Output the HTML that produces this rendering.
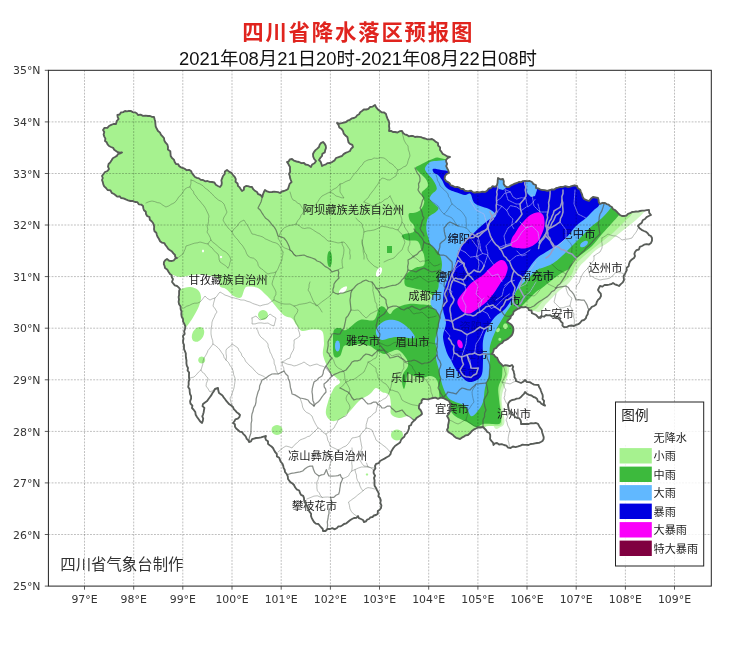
<!DOCTYPE html>
<html lang="zh"><head><meta charset="utf-8"><title>四川省降水落区预报图</title>
<style>html,body{margin:0;padding:0;background:#fff}body{width:734px;height:645px;overflow:hidden;font-family:"Liberation Sans","Noto Sans CJK SC",sans-serif}svg{display:block}text{font-family:"Liberation Sans","Noto Sans CJK SC",sans-serif}text.tk{font-family:"DejaVu Sans","Liberation Sans",sans-serif}</style>
</head><body>
<svg width="734" height="645" viewBox="0 0 734 645">
<rect width="734" height="645" fill="#fff"/>
<defs><clipPath id="prov"><path d="M102.0,176.0 L103.5,174.0 L105.0,172.0 L107.5,171.0 L109.0,169.0 L108.0,166.6 L108.6,164.0 L110.3,162.3 L111.6,160.3 L112.8,158.2 L115.0,157.0 L116.8,155.9 L118.0,154.0 L120.2,153.4 L122.0,152.4 L119.8,152.7 L117.8,152.2 L116.0,151.0 L114.2,149.8 L113.1,147.8 L111.0,147.0 L109.0,146.0 L107.6,144.4 L106.7,142.3 L105.0,141.0 L105.4,138.6 L104.3,136.6 L103.6,134.4 L104.3,132.0 L103.0,130.0 L104.5,127.9 L107.4,127.9 L109.0,126.0 L111.2,124.9 L113.5,124.0 L116.0,124.0 L116.7,121.2 L118.6,119.0 L117.7,117.1 L117.4,115.0 L119.6,114.5 L120.9,112.5 L123.2,112.1 L125.0,111.0 L127.0,111.3 L129.0,110.8 L131.0,111.0 L132.7,112.1 L134.9,112.3 L136.7,113.3 L138.0,115.0 L140.6,114.7 L143.0,115.8 L145.5,115.6 L148.0,116.0 L150.1,116.0 L152.0,116.8 L154.0,117.0 L154.6,119.3 L155.3,121.6 L155.4,124.0 L155.7,126.5 L156.8,128.8 L158.0,131.0 L159.9,132.4 L160.9,134.6 L162.5,136.3 L164.0,138.0 L164.3,140.5 L165.6,142.7 L167.4,144.6 L168.0,147.0 L167.9,149.5 L170.3,151.2 L170.5,153.5 L170.7,156.0 L172.0,158.0 L173.9,159.6 L174.7,162.0 L176.0,164.0 L178.2,164.2 L179.3,166.3 L181.0,167.4 L183.0,168.0 L185.0,168.9 L186.7,170.2 L189.1,169.9 L191.0,171.0 L192.0,173.2 L193.5,175.1 L195.0,177.0 L196.9,177.9 L199.0,178.4 L200.8,179.9 L203.0,180.0 L205.1,181.3 L207.5,181.0 L209.7,181.8 L212.0,182.0 L214.4,182.5 L215.8,184.8 L217.9,186.0 L220.0,187.0 L221.5,185.0 L221.8,182.8 L221.4,180.3 L222.2,178.1 L223.0,176.0 L224.6,174.2 L224.9,171.5 L227.0,170.0 L229.0,171.6 L231.4,172.8 L233.0,175.0 L234.7,176.9 L235.8,179.1 L235.5,181.8 L237.6,183.5 L238.0,186.0 L239.7,187.4 L240.8,189.2 L242.0,191.0 L243.9,189.8 L244.0,187.2 L246.0,186.0 L248.0,186.2 L250.0,186.8 L252.0,187.0 L253.2,189.2 L254.9,190.8 L257.0,192.0 L258.2,194.2 L260.6,195.0 L262.0,197.0 L262.9,194.6 L263.8,192.2 L265.0,190.0 L267.1,191.4 L269.4,192.2 L272.0,192.0 L274.1,191.6 L276.1,191.9 L278.1,192.2 L280.0,193.0 L281.8,191.5 L284.0,191.0 L286.1,190.2 L288.0,189.0 L288.8,186.5 L289.6,183.9 L291.6,182.0 L290.8,180.0 L290.1,178.1 L289.8,176.0 L289.0,174.0 L290.2,171.8 L290.0,169.4 L290.0,167.0 L289.0,165.3 L288.2,163.6 L287.0,162.0 L288.8,161.3 L289.9,159.3 L292.0,159.0 L294.0,160.7 L296.5,161.5 L299.0,162.0 L301.4,163.2 L304.0,163.0 L305.5,164.5 L307.6,164.8 L309.3,165.8 L311.0,167.0 L312.1,164.5 L314.5,163.2 L316.0,161.0 L314.2,159.0 L313.2,156.7 L313.0,154.0 L314.1,151.9 L315.5,150.1 L317.3,148.6 L319.0,147.0 L319.7,144.8 L320.9,143.1 L323.0,142.0 L324.6,143.7 L325.7,145.7 L326.0,148.0 L325.2,150.1 L324.8,152.4 L322.4,153.7 L322.0,156.0 L320.3,157.9 L319.0,160.0 L320.6,161.7 L321.4,163.8 L322.0,166.0 L323.9,165.0 L325.9,164.3 L327.7,163.1 L330.0,163.0 L332.4,161.8 L334.6,160.4 L336.0,158.0 L338.0,157.3 L340.0,156.6 L342.0,156.0 L343.6,154.1 L345.6,152.9 L347.8,152.0 L350.0,151.0 L351.1,148.7 L353.0,147.0 L352.3,144.9 L350.0,143.9 L348.5,142.3 L348.0,140.0 L347.5,137.3 L345.5,135.5 L343.7,133.6 L343.0,131.0 L341.6,129.0 L339.3,127.5 L338.5,125.0 L337.0,123.0 L339.4,123.7 L341.6,123.2 L343.8,122.6 L346.0,122.0 L347.8,120.6 L349.9,119.8 L351.7,118.4 L354.0,118.0 L355.9,117.0 L357.2,115.2 L359.1,114.2 L360.2,112.2 L362.0,111.0 L363.8,109.5 L366.3,109.5 L368.4,108.8 L370.0,107.0 L372.7,106.6 L375.0,105.0 L376.2,107.4 L377.9,109.4 L380.0,111.0 L381.8,112.4 L384.2,112.5 L386.0,114.0 L386.6,116.4 L387.5,118.7 L388.7,121.0 L389.3,123.4 L389.0,126.0 L389.4,128.5 L389.0,131.0 L391.1,130.9 L392.9,132.0 L395.0,132.0 L397.5,132.5 L399.7,131.2 L402.0,131.0 L403.1,133.0 L404.8,134.4 L407.0,135.0 L408.8,136.3 L411.1,135.8 L413.1,136.0 L415.0,137.0 L417.1,136.7 L419.1,136.9 L421.1,137.2 L423.0,138.0 L425.2,138.5 L427.4,139.3 L429.7,139.4 L432.0,139.0 L434.0,140.3 L435.8,141.9 L438.0,143.0 L438.1,145.5 L440.1,147.4 L440.0,150.0 L441.5,151.9 L442.8,153.9 L445.0,155.0 L447.3,156.5 L450.0,157.0 L447.7,158.1 L446.0,160.0 L446.3,162.0 L447.1,163.9 L446.2,166.1 L447.0,168.0 L448.3,170.4 L449.0,173.0 L446.7,174.0 L445.0,176.0 L444.6,178.7 L446.0,181.0 L447.9,182.1 L449.6,183.3 L450.8,185.4 L453.0,186.0 L454.9,187.1 L457.2,186.9 L459.2,187.6 L461.0,189.0 L463.2,188.9 L464.8,190.7 L466.9,191.1 L469.0,191.0 L471.1,190.6 L472.9,192.1 L474.9,192.7 L477.0,192.0 L479.7,192.3 L482.3,191.7 L485.0,192.0 L487.1,190.7 L488.6,188.7 L491.0,188.0 L492.6,186.2 L495.4,186.8 L497.0,185.0 L497.6,182.7 L497.7,180.3 L498.0,178.0 L500.3,179.3 L503.0,179.0 L503.8,181.3 L503.7,183.9 L505.0,186.0 L506.8,187.1 L509.0,187.0 L510.8,185.5 L512.8,184.6 L514.8,183.6 L517.0,183.0 L518.9,182.0 L521.0,182.2 L522.9,181.1 L525.0,181.0 L527.4,181.2 L529.8,181.0 L532.0,182.0 L533.5,184.1 L536.0,185.0 L536.0,188.0 L538.1,188.4 L540.0,189.3 L542.0,190.0 L544.7,190.2 L547.3,190.8 L550.0,190.0 L552.0,189.3 L554.2,189.6 L556.0,188.2 L558.0,187.7 L560.0,187.0 L562.7,187.0 L565.3,186.1 L568.0,187.0 L570.2,186.6 L572.4,185.9 L574.6,185.3 L577.0,186.0 L577.9,188.3 L580.2,189.7 L581.0,192.0 L582.0,194.3 L582.6,196.8 L584.0,199.0 L586.5,200.1 L589.0,201.0 L590.8,198.8 L593.0,197.0 L595.5,197.5 L598.0,198.0 L598.6,200.0 L598.8,202.2 L600.0,204.0 L602.4,202.8 L605.0,203.0 L606.6,204.1 L608.6,204.6 L610.0,206.0 L611.9,207.0 L613.0,209.1 L615.0,210.0 L616.7,211.7 L618.3,213.4 L620.0,215.0 L621.9,216.0 L624.0,216.0 L626.4,215.7 L628.0,213.9 L630.1,213.2 L632.0,212.0 L634.0,211.8 L636.0,211.5 L638.0,211.6 L640.0,211.0 L642.2,210.7 L644.5,210.6 L646.7,210.2 L649.0,210.0 L649.2,212.8 L651.0,215.0 L648.8,216.0 L646.6,217.1 L645.0,219.0 L642.7,220.2 L641.8,222.8 L639.7,224.2 L638.0,226.0 L639.5,228.3 L641.6,229.8 L644.0,231.0 L646.1,231.9 L647.7,233.3 L648.9,235.1 L650.9,236.0 L652.0,238.0 L652.0,240.6 L651.0,243.0 L649.0,244.5 L646.4,244.2 L644.1,244.7 L642.0,246.0 L639.8,246.9 L638.9,249.5 L636.5,250.2 L635.0,252.0 L634.4,253.9 L635.0,256.1 L634.0,258.0 L631.8,259.5 L630.0,261.4 L629.0,264.0 L628.7,266.2 L626.6,267.7 L626.8,270.1 L625.8,272.0 L625.0,274.0 L623.7,275.8 L623.7,277.9 L624.0,280.0 L622.8,282.4 L620.8,284.1 L619.0,286.0 L617.0,285.0 L614.9,284.3 L613.0,283.0 L611.2,284.2 L609.1,284.7 L607.0,285.0 L604.6,284.9 L602.5,286.6 L600.0,286.0 L598.9,288.0 L598.0,290.0 L599.1,291.9 L600.8,293.6 L601.0,296.0 L599.9,298.2 L598.0,299.9 L596.8,302.0 L596.1,304.5 L594.0,306.0 L591.8,306.8 L590.6,308.6 L588.9,309.9 L588.0,312.0 L587.7,314.3 L586.4,316.2 L585.8,318.4 L584.0,320.0 L581.7,320.7 L580.2,322.8 L578.4,324.2 L576.1,324.9 L574.0,326.0 L571.4,325.5 L568.9,325.9 L566.5,327.2 L564.0,327.0 L562.4,325.6 L562.7,323.1 L561.1,321.7 L560.0,320.0 L558.2,318.3 L555.6,318.0 L554.0,316.0 L551.9,316.6 L550.0,315.1 L548.0,315.4 L546.0,315.0 L544.0,316.7 L541.0,316.2 L539.0,318.0 L537.5,316.5 L536.0,314.9 L534.0,314.0 L531.9,313.1 L531.5,310.5 L528.9,310.1 L528.0,308.0 L525.8,307.0 L523.3,307.4 L521.0,307.0 L519.5,308.3 L517.6,308.9 L516.0,310.0 L513.7,311.5 L513.0,314.3 L511.0,316.0 L510.3,318.4 L508.3,320.0 L507.0,322.0 L509.3,323.3 L511.5,324.8 L513.0,327.0 L513.4,329.1 L513.3,331.1 L512.8,333.1 L512.0,335.0 L510.2,336.9 L508.2,338.6 L506.0,340.0 L503.7,340.9 L502.2,343.0 L500.0,344.0 L498.0,345.7 L496.4,347.8 L494.0,349.0 L493.3,351.6 L492.0,354.0 L494.1,354.9 L495.3,356.7 L497.2,357.8 L498.0,360.0 L499.3,362.3 L501.3,364.1 L503.0,366.0 L505.2,365.2 L507.5,365.5 L509.8,366.1 L512.0,365.0 L513.2,366.8 L512.4,369.1 L513.6,371.0 L514.0,373.0 L514.5,375.0 L514.4,377.2 L515.7,379.0 L516.0,381.0 L518.5,382.0 L521.0,383.0 L523.2,381.8 L525.0,380.0 L526.9,382.0 L529.8,382.1 L532.0,383.5 L534.0,384.6 L536.2,384.9 L538.5,385.0 L539.1,387.1 L540.3,388.9 L541.0,391.0 L541.7,392.9 L542.6,394.8 L542.8,396.9 L542.5,399.0 L544.1,400.9 L543.7,403.6 L545.0,405.6 L543.1,404.8 L541.3,403.7 L540.0,402.0 L537.9,401.4 L537.1,399.0 L535.6,397.7 L533.5,397.0 L531.5,395.5 L529.0,394.9 L526.9,393.7 L525.0,392.0 L524.0,393.9 L522.4,395.4 L521.0,397.0 L519.0,398.4 L516.5,398.6 L514.4,399.7 L512.0,400.0 L510.0,401.1 L508.6,402.8 L508.0,405.0 L508.4,407.8 L509.0,410.5 L510.9,411.8 L511.3,414.4 L513.8,415.1 L515.0,417.0 L517.0,417.8 L519.1,418.2 L520.5,420.0 L521.0,422.0 L521.0,424.0 L523.5,424.0 L526.1,424.0 L528.6,424.0 L531.0,423.1 L533.5,423.3 L536.0,423.0 L538.0,423.9 L539.0,425.8 L540.0,427.6 L541.7,429.8 L542.2,432.5 L543.0,435.0 L543.7,437.1 L543.6,439.1 L542.5,441.0 L540.8,442.0 L539.0,442.8 L537.0,443.0 L534.9,443.3 L532.8,443.9 L530.6,444.0 L528.6,445.0 L526.6,444.9 L524.5,444.9 L522.5,444.7 L520.5,445.6 L518.1,446.4 L515.6,447.1 L512.9,446.5 L510.6,448.0 L508.1,447.6 L506.4,445.6 L504.0,445.0 L501.7,444.1 L499.1,444.5 L497.0,443.0 L494.9,443.4 L493.5,445.0 L493.0,442.6 L491.4,440.9 L490.0,439.0 L490.2,437.0 L490.2,434.9 L489.4,433.0 L487.2,432.0 L486.0,430.0 L484.5,428.5 L483.0,427.0 L480.7,427.5 L478.2,427.4 L476.0,428.5 L473.6,429.7 L471.6,431.3 L469.9,433.3 L468.0,435.0 L465.7,435.3 L463.8,436.7 L461.8,437.7 L460.0,439.0 L458.0,438.4 L456.1,437.8 L454.4,436.6 L453.0,435.0 L450.8,433.5 L448.5,432.2 L447.0,430.0 L448.1,427.6 L448.1,425.0 L448.7,422.5 L449.0,420.0 L448.2,417.9 L447.0,416.0 L448.6,414.2 L449.6,412.0 L451.0,410.0 L449.6,408.0 L450.6,405.4 L450.0,403.1 L449.0,401.0 L447.0,400.0 L445.0,398.9 L443.0,398.0 L440.5,397.7 L438.0,398.8 L435.5,397.6 L433.0,398.0 L430.5,398.7 L428.1,399.3 L425.5,399.2 L423.0,399.0 L421.6,400.5 L421.5,402.8 L419.6,404.0 L419.0,406.0 L418.9,408.3 L420.5,410.0 L421.5,411.9 L422.0,414.0 L420.3,415.5 L418.3,416.7 L416.4,418.1 L415.0,420.0 L413.3,421.3 L411.8,422.8 L411.1,425.1 L409.0,426.0 L409.0,428.5 L408.1,430.8 L407.0,433.0 L405.1,434.4 L404.3,436.7 L402.4,438.2 L401.0,440.0 L400.2,442.2 L398.6,443.6 L396.8,444.8 L395.0,446.0 L393.5,447.8 L392.3,449.8 L391.1,451.8 L390.5,454.2 L389.0,456.0 L386.7,457.2 L384.5,458.6 L382.3,459.8 L380.0,461.0 L378.8,463.2 L376.1,463.8 L375.0,466.0 L375.4,468.4 L373.7,470.7 L373.6,473.1 L375.1,475.7 L374.0,478.0 L374.6,480.5 L374.4,483.1 L374.6,485.7 L376.0,488.0 L376.9,490.0 L378.0,491.8 L378.9,493.8 L378.4,496.3 L380.0,498.0 L380.8,500.4 L380.3,503.0 L381.4,505.4 L381.0,508.0 L379.7,509.7 L377.8,511.0 L377.8,513.7 L376.0,515.0 L373.9,515.5 L372.5,517.0 L370.4,517.4 L369.0,519.0 L367.1,519.7 L365.9,521.4 L364.0,522.0 L363.0,520.0 L361.0,519.0 L358.9,518.1 L358.0,516.0 L356.4,517.8 L354.0,518.0 L352.0,519.0 L350.0,520.3 L348.2,521.8 L346.4,523.3 L344.0,524.0 L342.4,525.3 L340.7,526.3 L338.4,526.4 L337.0,528.0 L334.8,529.3 L332.3,528.2 L330.0,529.0 L327.5,529.0 L325.5,531.0 L323.0,531.0 L322.7,528.9 L321.3,527.5 L320.0,526.0 L318.4,524.0 L315.8,523.7 L314.0,522.0 L312.8,520.1 L311.8,518.1 L311.0,516.0 L311.1,513.7 L309.7,511.9 L308.5,510.1 L308.0,508.0 L307.1,506.1 L306.0,504.2 L304.8,502.3 L304.1,500.3 L304.0,498.0 L303.2,495.9 L301.0,494.9 L300.0,493.0 L299.2,490.5 L296.6,489.3 L295.1,487.3 L294.0,485.0 L292.5,483.5 L290.6,482.4 L289.3,480.7 L288.0,479.0 L287.8,476.3 L286.7,474.0 L285.0,472.0 L284.7,469.8 L283.6,467.9 L283.2,465.7 L282.4,463.7 L280.9,462.0 L280.0,460.0 L279.2,457.8 L276.9,456.4 L276.8,453.8 L275.1,452.0 L274.0,450.0 L273.0,448.0 L271.5,446.5 L269.7,445.3 L268.0,443.9 L268.0,441.2 L266.0,440.0 L265.3,438.0 L266.0,436.0 L263.5,436.6 L261.1,437.3 L258.6,437.9 L256.0,438.0 L254.0,438.6 L252.1,439.2 L251.0,441.4 L249.0,442.0 L248.3,440.2 L246.7,438.9 L246.0,437.0 L244.8,435.3 L243.2,433.8 L242.0,432.0 L239.7,431.6 L238.0,430.0 L236.2,428.6 L235.0,426.8 L234.9,424.3 L233.0,423.0 L234.4,421.4 L235.4,419.4 L237.8,418.7 L239.3,417.2 L240.0,415.0 L238.5,413.5 L236.7,412.3 L235.4,410.6 L233.8,409.1 L233.0,407.0 L231.2,405.6 L229.3,404.3 L227.8,402.6 L226.3,400.9 L225.0,399.0 L223.6,397.4 L222.5,395.5 L220.8,394.2 L219.0,393.0 L218.3,390.5 L218.0,388.0 L215.0,389.0 L213.9,391.1 L212.5,393.0 L211.4,395.1 L210.0,397.0 L208.5,399.0 L207.1,401.1 L205.0,402.5 L203.0,404.0 L202.5,406.1 L204.4,407.9 L204.0,410.0 L203.7,412.2 L203.1,414.3 L202.3,416.4 L203.2,418.7 L202.8,420.9 L202.0,423.0 L200.0,421.3 L198.5,419.1 L197.0,417.0 L195.7,414.8 L195.3,412.1 L193.8,409.9 L192.0,408.0 L192.4,405.6 L190.4,403.5 L190.1,401.1 L191.1,398.6 L191.1,396.2 L190.0,394.0 L189.7,391.6 L189.6,389.2 L188.2,386.9 L188.7,384.4 L188.6,382.0 L189.3,379.6 L189.0,377.3 L189.0,375.0 L189.1,372.6 L187.6,370.4 L188.0,368.0 L186.8,365.6 L186.4,363.1 L186.5,360.5 L186.0,358.0 L185.8,355.7 L185.8,353.3 L184.9,351.2 L184.0,349.0 L184.0,347.0 L184.0,344.9 L183.2,343.0 L183.0,341.0 L183.5,338.6 L182.9,336.1 L184.7,333.9 L184.1,331.3 L185.0,329.0 L185.3,326.3 L184.3,323.9 L183.1,321.6 L183.0,319.0 L181.7,316.7 L181.3,314.1 L181.5,311.4 L180.6,309.0 L180.6,306.5 L179.1,304.3 L178.6,301.9 L179.0,299.4 L178.6,297.0 L179.1,295.0 L179.1,293.0 L179.1,290.9 L180.0,289.0 L178.6,287.4 L177.0,286.0 L174.8,285.4 L173.4,283.6 L172.0,282.0 L173.0,279.0 L171.9,277.4 L171.7,275.2 L170.0,274.0 L168.5,271.8 L167.2,269.5 L165.0,268.0 L164.6,266.0 L163.8,264.1 L164.0,262.0 L165.2,260.2 L167.0,259.0 L169.2,260.8 L172.0,261.0 L173.9,260.3 L175.1,258.7 L177.0,258.0 L175.2,257.0 L175.0,255.0 L173.4,253.4 L172.0,251.6 L170.1,250.3 L168.3,248.9 L167.0,247.0 L165.6,245.2 L164.4,243.2 L161.8,242.6 L160.0,241.2 L159.0,239.0 L157.7,237.1 L156.9,235.1 L156.3,232.8 L154.5,231.3 L154.0,229.0 L154.2,226.9 L153.8,224.9 L153.0,223.0 L151.6,221.2 L149.8,219.7 L149.5,217.1 L147.1,216.0 L146.0,214.0 L145.8,211.8 L144.0,210.2 L143.3,208.2 L143.0,206.0 L141.2,204.6 L138.8,204.3 L137.4,202.2 L135.0,202.0 L133.0,201.0 L130.5,201.0 L128.1,200.3 L125.8,199.4 L123.5,198.3 L121.0,198.0 L119.7,196.3 L117.2,196.6 L115.6,195.2 L114.0,194.0 L111.7,192.9 L110.5,190.3 L107.6,190.0 L106.0,188.0 L104.2,186.4 L103.3,184.4 L102.8,182.1 L102.0,180.0 L102.8,178.0Z"/></clipPath>
<filter id="soft" x="-5%" y="-5%" width="110%" height="110%"><feGaussianBlur stdDeviation="0.45"/></filter>
<filter id="soft2" x="-5%" y="-5%" width="110%" height="110%"><feGaussianBlur stdDeviation="0.3"/></filter>
</defs>
<text x="358.2" y="40.4" text-anchor="middle" font-size="21.4" font-weight="bold" fill="#e0241e" letter-spacing="1.8">四川省降水落区预报图</text>
<text x="358" y="64.9" text-anchor="middle" font-size="18.4" fill="#111">2021年08月21日20时-2021年08月22日08时</text>
<g filter="url(#soft)"><g clip-path="url(#prov)">
<path d="M538.0,312.0 C542.3,312.7 543.7,306.3 546.0,304.0 C548.3,301.7 549.7,300.3 552.0,298.0 C554.3,295.7 557.3,292.3 560.0,290.0 C562.7,287.7 565.7,286.3 568.0,284.0 C570.3,281.7 572.0,279.0 574.0,276.0 C576.0,273.0 578.0,268.7 580.0,266.0 C582.0,263.3 583.3,262.7 586.0,260.0 C588.7,257.3 592.7,252.7 596.0,250.0 C599.3,247.3 602.7,246.3 606.0,244.0 C609.3,241.7 612.7,238.7 616.0,236.0 C619.3,233.3 622.7,230.7 626.0,228.0 C629.3,225.3 633.0,222.7 636.0,220.0 C639.0,217.3 641.3,215.3 644.0,212.0 C646.7,208.7 656.0,203.7 652.0,200.0 C648.0,196.3 635.3,180.0 620.0,190.0 C604.7,200.0 576.7,241.7 560.0,260.0 C543.3,278.3 523.7,291.3 520.0,300.0 C516.3,308.7 533.7,311.3 538.0,312.0Z" fill="#cdf6bf"/>
<path d="M496.0,350.0 C498.2,343.0 500.9,355.3 503.0,358.0 C505.1,360.7 507.5,363.8 508.5,366.0 C509.5,368.2 509.5,368.2 509.0,371.0 C508.5,373.8 506.8,378.5 505.6,382.7 C504.4,386.9 502.3,392.1 501.8,396.3 C501.3,400.5 502.1,403.7 502.5,408.0 C502.9,412.3 504.8,418.9 504.5,422.0 C504.2,425.1 502.8,426.0 501.0,426.8 C499.2,427.6 495.8,431.3 494.0,426.8 C492.2,422.3 489.7,412.8 490.0,400.0 C490.3,387.2 493.8,357.0 496.0,350.0Z" fill="#cdf6bf"/>
<path d="M90.0,272.0 C101.7,300.7 146.7,271.7 160.0,272.0 C173.3,272.3 166.7,273.2 170.0,274.0 C173.3,274.8 176.8,276.8 180.0,277.0 C183.2,277.2 185.7,275.9 189.0,275.5 C192.3,275.1 196.2,274.4 200.0,274.5 C203.8,274.6 208.8,275.1 212.0,276.0 C215.2,276.9 217.7,278.2 219.0,280.0 C220.3,281.8 218.8,285.1 220.0,286.6 C221.2,288.1 223.7,287.4 226.0,289.0 C228.3,290.6 231.1,294.6 233.6,296.0 C236.1,297.4 239.2,298.8 241.0,297.6 C242.8,296.4 243.4,290.8 244.6,289.0 C245.8,287.2 245.8,286.8 248.0,286.6 C250.2,286.4 255.2,286.8 258.0,288.0 C260.8,289.2 263.0,292.2 265.0,294.0 C267.0,295.8 267.9,296.6 270.0,299.0 C272.1,301.4 275.2,305.9 277.7,308.7 C280.2,311.5 282.6,314.4 285.0,316.0 C287.4,317.6 290.0,316.8 292.0,318.5 C294.0,320.2 295.3,323.9 297.0,326.0 C298.7,328.1 299.5,330.4 302.0,331.0 C304.5,331.6 308.7,329.5 312.0,329.5 C315.3,329.5 320.0,328.8 322.0,331.0 C324.0,333.2 323.8,339.0 324.0,343.0 C324.2,347.0 322.2,350.5 323.0,355.0 C323.8,359.5 327.5,366.8 329.0,370.0 C330.5,373.2 330.2,372.0 332.0,374.0 C333.8,376.0 339.7,379.7 340.0,382.0 C340.3,384.3 336.0,384.7 334.0,388.0 C332.0,391.3 329.3,397.7 328.0,402.0 C326.7,406.3 325.3,410.8 326.0,414.0 C326.7,417.2 329.3,420.3 332.0,421.0 C334.7,421.7 338.8,419.8 342.0,418.0 C345.2,416.2 348.2,412.8 351.0,410.0 C353.8,407.2 355.8,403.7 359.0,401.0 C362.2,398.3 367.2,396.2 370.0,394.0 C372.8,391.8 374.0,388.3 376.0,388.0 C378.0,387.7 379.8,390.8 382.0,392.0 C384.2,393.2 387.5,392.8 389.0,395.0 C390.5,397.2 390.7,401.8 391.0,405.0 C391.3,408.2 389.7,411.8 391.0,414.0 C392.3,416.2 396.0,417.7 399.0,418.0 C402.0,418.3 406.5,415.5 409.0,416.0 C411.5,416.5 411.3,418.3 414.0,421.0 C416.7,423.7 420.7,426.8 425.0,432.0 C429.3,437.2 432.5,449.7 440.0,452.0 C447.5,454.3 463.3,449.2 470.0,446.0 C476.7,442.8 477.5,436.2 480.0,433.0 C482.5,429.8 483.0,428.2 485.0,427.0 C487.0,425.8 489.4,426.2 492.0,426.0 C494.6,425.8 498.8,426.5 500.5,425.5 C502.2,424.5 501.9,422.9 502.0,420.0 C502.1,417.1 501.3,412.0 501.0,408.0 C500.7,404.0 500.1,399.1 500.0,396.0 C499.9,392.9 499.8,392.0 500.5,389.5 C501.2,387.0 502.9,383.3 504.0,381.0 C505.1,378.7 506.6,378.1 507.0,375.8 C507.4,373.5 507.2,370.0 506.5,367.0 C505.8,364.0 503.8,360.5 503.0,358.0 C502.2,355.5 500.8,354.2 502.0,352.0 C503.2,349.8 507.3,347.8 510.0,345.0 C512.7,342.2 517.0,338.8 518.0,335.0 C519.0,331.2 515.7,325.7 516.0,322.0 C516.3,318.3 517.7,314.8 520.0,313.0 C522.3,311.2 527.3,311.7 530.0,311.0 C532.7,310.3 534.0,310.5 536.0,309.0 C538.0,307.5 539.7,304.5 542.0,302.0 C544.3,299.5 547.3,296.7 550.0,294.0 C552.7,291.3 555.3,288.3 558.0,286.0 C560.7,283.7 563.7,282.0 566.0,280.0 C568.3,278.0 570.3,276.7 572.0,274.0 C573.7,271.3 574.0,267.0 576.0,264.0 C578.0,261.0 581.0,258.7 584.0,256.0 C587.0,253.3 590.7,250.7 594.0,248.0 C597.3,245.3 600.7,242.7 604.0,240.0 C607.3,237.3 610.7,235.0 614.0,232.0 C617.3,229.0 621.0,225.0 624.0,222.0 C627.0,219.0 629.3,217.7 632.0,214.0 C634.7,210.3 628.7,219.0 640.0,200.0 C651.3,181.0 791.7,116.7 700.0,100.0 C608.3,83.3 191.7,71.3 90.0,100.0 C-11.7,128.7 78.3,243.3 90.0,272.0Z" fill="#a6f28f"/>
<path d="M181.0,289.0 C183.3,288.2 187.2,286.8 190.0,287.0 C192.8,287.2 196.2,288.3 198.0,290.0 C199.8,291.7 200.8,294.3 201.0,297.0 C201.2,299.7 200.0,303.2 199.0,306.0 C198.0,308.8 196.5,311.3 195.0,314.0 C193.5,316.7 191.7,319.8 190.0,322.0 C188.3,324.2 187.0,327.3 185.0,327.0 C183.0,326.7 179.5,323.7 178.0,320.0 C176.5,316.3 176.3,309.7 176.0,305.0 C175.7,300.3 175.2,294.7 176.0,292.0 C176.8,289.3 178.7,289.8 181.0,289.0Z" fill="#a6f28f"/>
<path d="M202.0,327.5 C202.4,327.7 202.8,328.0 203.1,328.4 C203.4,328.8 203.7,329.3 203.8,329.8 C204.0,330.3 204.1,330.9 204.2,331.4 C204.2,332.0 204.2,332.7 204.1,333.3 C204.0,334.0 203.9,334.6 203.6,335.3 C203.4,335.9 203.1,336.6 202.8,337.1 C202.4,337.7 202.0,338.3 201.6,338.8 C201.1,339.4 200.6,339.8 200.1,340.2 C199.6,340.6 199.1,341.0 198.5,341.2 C198.0,341.5 197.4,341.7 196.9,341.8 C196.4,341.9 195.9,341.9 195.4,341.8 C194.9,341.7 194.4,341.6 194.0,341.3 C193.6,341.1 193.2,340.8 192.9,340.4 C192.6,340.0 192.3,339.5 192.2,339.0 C192.0,338.5 191.9,337.9 191.8,337.4 C191.8,336.8 191.8,336.1 191.9,335.5 C192.0,334.8 192.1,334.2 192.4,333.5 C192.6,332.9 192.9,332.2 193.2,331.6 C193.6,331.1 194.0,330.5 194.4,330.0 C194.9,329.4 195.4,329.0 195.9,328.6 C196.4,328.2 196.9,327.8 197.5,327.6 C198.0,327.3 198.6,327.1 199.1,327.0 C199.6,326.9 200.1,326.9 200.6,327.0 C201.1,327.1 201.6,327.2 202.0,327.5Z" fill="#a6f28f"/>
<path d="M205.2,360.0 C205.2,360.6 205.0,361.2 204.7,361.8 C204.4,362.3 204.0,362.7 203.4,363.0 C202.9,363.3 202.3,363.5 201.7,363.5 C201.1,363.5 200.5,363.3 199.9,363.0 C199.4,362.7 199.0,362.3 198.7,361.8 C198.4,361.2 198.2,360.6 198.2,360.0 C198.2,359.4 198.4,358.8 198.7,358.2 C199.0,357.7 199.4,357.3 199.9,357.0 C200.5,356.7 201.1,356.5 201.7,356.5 C202.3,356.5 202.9,356.7 203.4,357.0 C204.0,357.3 204.4,357.7 204.7,358.2 C205.0,358.8 205.2,359.4 205.2,360.0Z" fill="#a6f28f"/>
<path d="M268.0,315.0 C268.0,315.8 267.7,316.8 267.3,317.5 C266.9,318.2 266.2,318.9 265.5,319.3 C264.8,319.7 263.8,320.0 263.0,320.0 C262.2,320.0 261.2,319.7 260.5,319.3 C259.8,318.9 259.1,318.2 258.7,317.5 C258.3,316.8 258.0,315.8 258.0,315.0 C258.0,314.2 258.3,313.2 258.7,312.5 C259.1,311.8 259.8,311.1 260.5,310.7 C261.2,310.3 262.2,310.0 263.0,310.0 C263.8,310.0 264.8,310.3 265.5,310.7 C266.2,311.1 266.9,311.8 267.3,312.5 C267.7,313.2 268.0,314.2 268.0,315.0Z" fill="#a6f28f"/>
<path d="M282.5,430.0 C282.5,430.8 282.2,431.8 281.8,432.5 C281.3,433.2 280.5,433.9 279.8,434.3 C279.0,434.7 277.9,435.0 277.0,435.0 C276.1,435.0 275.0,434.7 274.2,434.3 C273.5,433.9 272.7,433.2 272.2,432.5 C271.8,431.8 271.5,430.8 271.5,430.0 C271.5,429.2 271.8,428.2 272.2,427.5 C272.7,426.8 273.5,426.1 274.2,425.7 C275.0,425.3 276.1,425.0 277.0,425.0 C277.9,425.0 279.0,425.3 279.8,425.7 C280.5,426.1 281.3,426.8 281.8,427.5 C282.2,428.2 282.5,429.2 282.5,430.0Z" fill="#a6f28f"/>
<path d="M403.0,435.0 C403.0,435.9 402.7,437.0 402.2,437.8 C401.7,438.5 400.9,439.3 400.0,439.8 C399.1,440.2 398.0,440.5 397.0,440.5 C396.0,440.5 394.9,440.2 394.0,439.8 C393.1,439.3 392.3,438.5 391.8,437.8 C391.3,437.0 391.0,435.9 391.0,435.0 C391.0,434.1 391.3,433.0 391.8,432.2 C392.3,431.5 393.1,430.7 394.0,430.2 C394.9,429.8 396.0,429.5 397.0,429.5 C398.0,429.5 399.1,429.8 400.0,430.2 C400.9,430.7 401.7,431.5 402.2,432.2 C402.7,433.0 403.0,434.1 403.0,435.0Z" fill="#a6f28f"/>
<path d="M368.2,474.5 C368.2,474.8 368.0,475.1 367.8,475.3 C367.6,475.5 367.3,475.7 367.0,475.7 C366.7,475.7 366.4,475.5 366.2,475.3 C366.0,475.1 365.8,474.8 365.8,474.5 C365.8,474.2 366.0,473.9 366.2,473.7 C366.4,473.5 366.7,473.3 367.0,473.3 C367.3,473.3 367.6,473.5 367.8,473.7 C368.0,473.9 368.2,474.2 368.2,474.5Z" fill="#a6f28f"/>
<path d="M346.8,286.8 C347.1,287.1 347.1,287.5 347.0,288.1 C346.9,288.6 346.6,289.2 346.1,289.9 C345.7,290.5 345.1,291.1 344.4,291.7 C343.8,292.2 343.0,292.7 342.3,293.1 C341.6,293.4 340.9,293.6 340.4,293.6 C339.9,293.7 339.4,293.5 339.2,293.2 C338.9,292.9 338.9,292.5 339.0,291.9 C339.1,291.4 339.4,290.8 339.9,290.1 C340.3,289.5 340.9,288.9 341.6,288.3 C342.2,287.8 343.0,287.3 343.7,286.9 C344.4,286.6 345.1,286.4 345.6,286.4 C346.1,286.3 346.6,286.5 346.8,286.8Z" fill="#ffffff"/>
<path d="M381.3,273.1 C380.9,273.8 380.4,274.6 379.9,275.2 C379.4,275.7 378.8,276.2 378.3,276.5 C377.8,276.7 377.3,276.7 376.9,276.5 C376.5,276.4 376.2,275.9 376.0,275.4 C375.9,274.9 375.9,274.1 376.0,273.4 C376.1,272.6 376.4,271.7 376.7,270.9 C377.1,270.2 377.6,269.4 378.1,268.8 C378.6,268.3 379.2,267.8 379.7,267.5 C380.2,267.3 380.7,267.3 381.1,267.5 C381.5,267.6 381.8,268.1 382.0,268.6 C382.1,269.1 382.1,269.9 382.0,270.6 C381.9,271.4 381.6,272.3 381.3,273.1Z" fill="#ffffff"/>
<path d="M204.0,251.0 C204.0,251.3 203.9,251.8 203.7,252.0 C203.5,252.2 203.2,252.4 203.0,252.4 C202.8,252.4 202.5,252.2 202.3,252.0 C202.1,251.8 202.0,251.3 202.0,251.0 C202.0,250.7 202.1,250.2 202.3,250.0 C202.5,249.8 202.8,249.6 203.0,249.6 C203.2,249.6 203.5,249.8 203.7,250.0 C203.9,250.2 204.0,250.7 204.0,251.0Z" fill="#ffffff"/>
<path d="M222.2,257.0 C222.2,257.3 222.0,257.6 221.8,257.8 C221.6,258.0 221.3,258.2 221.0,258.2 C220.7,258.2 220.4,258.0 220.2,257.8 C220.0,257.6 219.8,257.3 219.8,257.0 C219.8,256.7 220.0,256.4 220.2,256.2 C220.4,256.0 220.7,255.8 221.0,255.8 C221.3,255.8 221.6,256.0 221.8,256.2 C222.0,256.4 222.2,256.7 222.2,257.0Z" fill="#ffffff"/>
<path d="M412.4,351.0 C412.4,351.3 412.2,351.8 412.0,352.0 C411.8,352.2 411.3,352.4 411.0,352.4 C410.7,352.4 410.2,352.2 410.0,352.0 C409.8,351.8 409.6,351.3 409.6,351.0 C409.6,350.7 409.8,350.2 410.0,350.0 C410.2,349.8 410.7,349.6 411.0,349.6 C411.3,349.6 411.8,349.8 412.0,350.0 C412.2,350.2 412.4,350.7 412.4,351.0Z" fill="#ffffff"/>
<path d="M437.0,157.5 C439.0,157.2 440.3,158.2 442.0,158.5 C443.7,158.8 445.2,159.4 447.0,159.5 C448.8,159.6 451.2,159.8 453.0,159.0 C454.8,158.2 455.2,156.5 458.0,155.0 C460.8,153.5 439.7,150.8 470.0,150.0 C500.3,149.2 614.2,140.8 640.0,150.0 C665.8,159.2 628.5,194.2 625.0,205.0 C621.5,215.8 621.2,212.0 619.0,215.0 C616.8,218.0 614.8,219.8 612.0,223.0 C609.2,226.2 605.3,230.2 602.0,234.0 C598.7,237.8 595.3,242.7 592.0,246.0 C588.7,249.3 585.0,251.7 582.0,254.0 C579.0,256.3 576.0,257.7 574.0,260.0 C572.0,262.3 572.3,265.7 570.0,268.0 C567.7,270.3 563.0,272.0 560.0,274.0 C557.0,276.0 555.0,277.7 552.0,280.0 C549.0,282.3 544.7,286.0 542.0,288.0 C539.3,290.0 538.3,290.0 536.0,292.0 C533.7,294.0 530.5,297.5 528.0,300.0 C525.5,302.5 522.7,305.0 521.0,307.0 C519.3,309.0 518.2,308.2 518.0,312.0 C517.8,315.8 520.5,325.0 520.0,330.0 C519.5,335.0 517.5,338.3 515.0,342.0 C512.5,345.7 507.0,349.0 505.0,352.0 C503.0,355.0 503.4,357.3 503.0,360.0 C502.6,362.7 502.7,365.0 502.5,368.0 C502.3,371.0 502.4,374.7 501.7,378.0 C501.0,381.3 498.8,384.1 498.4,387.6 C497.9,391.1 498.6,394.4 499.0,399.0 C499.4,403.6 500.8,410.9 501.0,415.0 C501.2,419.1 501.4,422.1 500.0,423.6 C498.6,425.1 495.5,423.9 492.7,424.0 C489.9,424.1 485.8,423.5 483.0,424.0 C480.2,424.5 478.7,427.3 476.0,427.0 C473.3,426.7 470.5,423.8 467.0,422.0 C463.5,420.2 458.0,418.3 455.0,416.0 C452.0,413.7 450.7,410.7 449.0,408.0 C447.3,405.3 446.5,401.7 445.0,400.0 C443.5,398.3 441.0,399.3 440.0,398.0 C439.0,396.7 439.5,395.0 439.0,392.0 C438.5,389.0 438.5,382.7 437.0,380.0 C435.5,377.3 432.5,376.3 430.0,376.0 C427.5,375.7 424.7,378.0 422.0,378.0 C419.3,378.0 416.3,376.7 414.0,376.0 C411.7,375.3 409.3,373.0 408.0,374.0 C406.7,375.0 406.7,379.5 406.0,382.0 C405.3,384.5 404.7,389.0 404.0,389.0 C403.3,389.0 402.2,384.5 402.0,382.0 C401.8,379.5 402.0,376.7 403.0,374.0 C404.0,371.3 407.5,368.7 408.0,366.0 C408.5,363.3 407.7,360.7 406.0,358.0 C404.3,355.3 400.7,351.0 398.0,350.0 C395.3,349.0 392.3,351.3 390.0,352.0 C387.7,352.7 386.3,354.3 384.0,354.0 C381.7,353.7 378.3,351.3 376.0,350.0 C373.7,348.7 372.7,347.0 370.0,346.0 C367.3,345.0 363.3,344.0 360.0,344.0 C356.7,344.0 352.7,345.7 350.0,346.0 C347.3,346.3 345.7,344.3 344.0,346.0 C342.3,347.7 341.7,354.3 340.0,356.0 C338.3,357.7 335.2,358.3 334.0,356.0 C332.8,353.7 333.0,346.3 333.0,342.0 C333.0,337.7 332.8,332.3 334.0,330.0 C335.2,327.7 338.0,328.0 340.0,328.0 C342.0,328.0 342.7,331.3 346.0,330.0 C349.3,328.7 355.3,321.7 360.0,320.0 C364.7,318.3 370.8,322.0 374.0,320.0 C377.2,318.0 377.3,310.2 379.0,308.0 C380.7,305.8 382.2,306.0 384.0,307.0 C385.8,308.0 388.2,313.7 390.0,314.0 C391.8,314.3 391.8,310.7 395.0,309.0 C398.2,307.3 402.8,304.7 409.0,304.0 C415.2,303.3 427.5,305.7 432.0,305.0 C436.5,304.3 435.8,301.5 436.0,300.0 C436.2,298.5 434.8,297.5 433.0,296.0 C431.2,294.5 428.3,292.3 425.0,291.0 C421.7,289.7 416.3,289.0 413.0,288.0 C409.7,287.0 406.2,287.2 405.0,285.0 C403.8,282.8 404.3,277.8 406.0,275.0 C407.7,272.2 412.0,269.7 415.0,268.0 C418.0,266.3 422.5,267.2 424.0,265.0 C425.5,262.8 424.5,257.7 424.0,255.0 C423.5,252.3 421.7,250.7 421.0,249.0 C420.3,247.3 420.7,246.4 420.0,245.0 C419.3,243.6 418.9,241.6 416.7,240.8 C414.5,240.0 409.4,240.8 407.0,240.2 C404.6,239.6 402.6,238.0 402.0,237.0 C401.4,236.0 401.8,235.1 403.7,234.3 C405.6,233.5 411.7,233.4 413.4,232.0 C415.1,230.6 414.6,227.6 414.0,225.6 C413.4,223.6 410.5,222.2 409.7,220.2 C408.9,218.2 408.0,214.9 409.0,213.6 C410.0,212.3 413.6,213.3 415.6,212.6 C417.6,211.9 419.6,211.1 421.0,209.3 C422.4,207.5 424.2,204.4 424.3,201.7 C424.4,199.0 421.1,195.5 421.6,193.0 C422.2,190.5 426.8,188.7 427.6,186.5 C428.4,184.3 427.6,182.1 426.5,180.0 C425.4,177.9 422.8,176.0 421.0,174.0 C419.2,172.0 415.7,169.5 415.5,168.0 C415.3,166.5 417.6,166.3 420.0,165.0 C422.4,163.7 427.2,161.2 430.0,160.0 C432.8,158.8 435.0,157.8 437.0,157.5Z" fill="#3dba3d"/>
<path d="M332.0,259.0 C332.0,260.3 331.9,261.8 331.7,263.0 C331.5,264.2 331.1,265.3 330.8,265.9 C330.5,266.6 330.0,267.0 329.6,267.0 C329.2,267.0 328.7,266.6 328.4,265.9 C328.1,265.3 327.7,264.2 327.5,263.0 C327.3,261.8 327.2,260.3 327.2,259.0 C327.2,257.7 327.3,256.2 327.5,255.0 C327.7,253.8 328.1,252.7 328.4,252.1 C328.7,251.4 329.2,251.0 329.6,251.0 C330.0,251.0 330.5,251.4 330.8,252.1 C331.1,252.7 331.5,253.8 331.7,255.0 C331.9,256.2 332.0,257.7 332.0,259.0Z" fill="#3dba3d"/>
<path d="M387.0,246.0 L392.0,246.0 L392.0,253.0 L387.0,253.0Z" fill="#3dba3d"/>
<path d="M499.7,330.6 C499.5,331.1 499.2,331.5 498.9,331.8 C498.6,332.1 498.1,332.3 497.7,332.3 C497.4,332.4 497.0,332.2 496.7,332.0 C496.4,331.7 496.2,331.3 496.1,330.8 C496.1,330.4 496.1,329.8 496.3,329.4 C496.5,328.9 496.8,328.5 497.1,328.2 C497.4,327.9 497.9,327.7 498.3,327.7 C498.6,327.6 499.0,327.8 499.3,328.0 C499.6,328.3 499.8,328.7 499.9,329.2 C499.9,329.6 499.9,330.2 499.7,330.6Z" fill="#a6f28f"/>
<path d="M507.8,326.3 C507.8,326.8 507.6,327.5 507.3,327.9 C507.1,328.4 506.6,328.8 506.1,329.0 C505.7,329.1 505.1,329.1 504.7,329.0 C504.2,328.8 503.7,328.4 503.5,327.9 C503.2,327.5 503.0,326.8 503.0,326.3 C503.0,325.8 503.2,325.1 503.5,324.7 C503.7,324.2 504.2,323.8 504.7,323.6 C505.1,323.5 505.7,323.5 506.1,323.6 C506.6,323.8 507.1,324.2 507.3,324.7 C507.6,325.1 507.8,325.8 507.8,326.3Z" fill="#a6f28f"/>
<path d="M501.3,339.3 C501.3,339.7 501.1,340.1 500.9,340.4 C500.6,340.6 500.2,340.8 499.8,340.8 C499.4,340.8 499.0,340.6 498.7,340.4 C498.5,340.1 498.3,339.7 498.3,339.3 C498.3,338.9 498.5,338.5 498.7,338.2 C499.0,338.0 499.4,337.8 499.8,337.8 C500.2,337.8 500.6,338.0 500.9,338.2 C501.1,338.5 501.3,338.9 501.3,339.3Z" fill="#a6f28f"/>
<path d="M446.0,160.0 C443.3,160.1 438.7,160.7 436.0,161.0 C433.3,161.3 431.8,160.8 430.0,162.0 C428.2,163.2 425.5,166.2 425.0,168.0 C424.5,169.8 425.7,171.0 427.0,173.0 C428.3,175.0 431.4,177.4 433.0,180.0 C434.6,182.6 437.0,186.4 436.8,188.7 C436.6,191.0 433.2,192.4 432.0,194.0 C430.8,195.6 429.5,197.0 429.7,198.5 C429.9,200.0 431.6,201.2 433.0,202.8 C434.4,204.4 438.0,206.6 438.4,208.2 C438.8,209.8 436.8,211.1 435.2,212.6 C433.6,214.1 430.1,215.2 428.6,217.0 C427.2,218.8 426.9,221.1 426.5,223.4 C426.1,225.7 426.1,228.5 426.5,231.0 C426.9,233.5 427.9,236.3 428.6,238.6 C429.4,240.9 429.3,242.6 431.0,245.0 C432.7,247.4 437.2,249.7 439.0,253.0 C440.8,256.3 442.0,260.7 442.0,265.0 C442.0,269.3 439.7,275.0 439.0,279.0 C438.3,283.0 439.2,286.0 438.0,289.0 C436.8,292.0 433.2,294.3 432.0,297.0 C430.8,299.7 429.8,302.0 431.0,305.0 C432.2,308.0 437.8,311.0 439.0,315.0 C440.2,319.0 438.7,324.7 438.0,329.0 C437.3,333.3 435.2,337.7 435.0,341.0 C434.8,344.3 436.8,346.2 437.0,349.0 C437.2,351.8 435.7,354.5 436.0,358.0 C436.3,361.5 438.0,365.7 439.0,370.0 C440.0,374.3 440.7,379.7 442.0,384.0 C443.3,388.3 445.2,393.2 447.0,396.0 C448.8,398.8 450.0,399.3 453.0,401.0 C456.0,402.7 462.0,403.5 465.0,406.0 C468.0,408.5 469.0,415.0 471.0,416.0 C473.0,417.0 475.0,414.3 477.0,412.0 C479.0,409.7 481.7,406.0 483.0,402.0 C484.3,398.0 484.0,392.7 485.0,388.0 C486.0,383.3 488.2,379.0 489.0,374.0 C489.8,369.0 489.8,362.7 490.0,358.0 C490.2,353.3 489.0,350.7 490.0,346.0 C491.0,341.3 493.7,335.0 496.0,330.0 C498.3,325.0 501.2,320.7 504.0,316.0 C506.8,311.3 510.8,306.3 513.0,302.0 C515.2,297.7 513.2,295.2 517.0,290.0 C520.8,284.8 531.8,274.7 536.0,271.0 C540.2,267.3 539.3,269.2 542.0,268.0 C544.7,266.8 548.7,266.0 552.0,264.0 C555.3,262.0 558.7,259.0 562.0,256.0 C565.3,253.0 568.7,249.3 572.0,246.0 C575.3,242.7 578.7,239.3 582.0,236.0 C585.3,232.7 588.7,229.0 592.0,226.0 C595.3,223.0 599.0,220.8 602.0,218.0 C605.0,215.2 607.8,212.0 610.0,209.0 C612.2,206.0 610.0,209.8 615.0,200.0 C620.0,190.2 664.2,158.3 640.0,150.0 C615.8,141.7 500.3,149.0 470.0,150.0 C439.7,151.0 461.0,154.2 458.0,156.0 C455.0,157.8 454.0,159.8 452.0,160.5 C450.0,161.2 448.7,159.9 446.0,160.0Z" fill="#61b8ff"/>
<path d="M376.0,330.0 C376.5,328.0 378.0,325.7 380.0,324.0 C382.0,322.3 385.0,320.5 388.0,320.0 C391.0,319.5 395.0,320.0 398.0,321.0 C401.0,322.0 403.7,324.2 406.0,326.0 C408.3,327.8 410.7,330.0 412.0,332.0 C413.3,334.0 416.3,337.2 414.0,338.0 C411.7,338.8 402.0,337.0 398.0,337.0 C394.0,337.0 392.7,337.5 390.0,338.0 C387.3,338.5 384.2,340.3 382.0,340.0 C379.8,339.7 378.0,337.7 377.0,336.0 C376.0,334.3 375.5,332.0 376.0,330.0Z" fill="#61b8ff"/>
<path d="M340.0,346.0 C340.0,346.9 339.9,348.0 339.7,348.8 C339.5,349.5 339.1,350.3 338.8,350.8 C338.4,351.2 337.9,351.5 337.5,351.5 C337.1,351.5 336.6,351.2 336.2,350.8 C335.9,350.3 335.5,349.5 335.3,348.8 C335.1,348.0 335.0,346.9 335.0,346.0 C335.0,345.1 335.1,344.0 335.3,343.2 C335.5,342.5 335.9,341.7 336.2,341.2 C336.6,340.8 337.1,340.5 337.5,340.5 C337.9,340.5 338.4,340.8 338.8,341.2 C339.1,341.7 339.5,342.5 339.7,343.2 C339.9,344.0 340.0,345.1 340.0,346.0Z" fill="#61b8ff"/>
<path d="M587.7,241.4 C587.9,241.8 588.0,242.3 587.9,242.8 C587.8,243.3 587.5,243.9 587.1,244.5 C586.7,245.0 586.0,245.6 585.4,246.0 C584.8,246.5 584.1,246.9 583.4,247.1 C582.7,247.3 582.0,247.3 581.5,247.3 C581.0,247.2 580.6,246.9 580.3,246.6 C580.1,246.2 580.0,245.7 580.1,245.2 C580.2,244.7 580.5,244.1 580.9,243.5 C581.3,243.0 582.0,242.4 582.6,242.0 C583.2,241.5 583.9,241.1 584.6,240.9 C585.3,240.7 586.0,240.7 586.5,240.7 C587.0,240.8 587.4,241.1 587.7,241.4Z" fill="#61b8ff"/>
</g></g>
<g font-size="11.3" fill="#1c1c1c" text-anchor="middle">
<text x="353.5" y="214.0">阿坝藏族羌族自治州</text>
<text x="228.0" y="284.0">甘孜藏族自治州</text>
<text x="464.5" y="243.0">绵阳市</text>
<text x="578.5" y="237.5">巴中市</text>
<text x="605.5" y="272.0">达州市</text>
<text x="452.7" y="281.0">德阳市</text>
<text x="537.0" y="279.5">南充市</text>
<text x="425.2" y="299.5">成都市</text>
<text x="556.8" y="318.4">广安市</text>
<text x="503.5" y="305.0">遂宁市</text>
<text x="476.5" y="331.0">资阳市</text>
<text x="470.5" y="359.4">内江市</text>
<text x="363.0" y="345.0">雅安市</text>
<text x="412.5" y="345.6">眉山市</text>
<text x="408.0" y="382.0">乐山市</text>
<text x="461.5" y="377.4">自贡市</text>
<text x="452.0" y="413.3">宜宾市</text>
<text x="514.0" y="418.4">泸州市</text>
<text x="327.6" y="460.2">凉山彝族自治州</text>
<text x="314.5" y="509.6">攀枝花市</text>
</g>
<g filter="url(#soft)">
<g clip-path="url(#prov)">
<path d="M433.0,169.0 C434.2,168.5 438.3,169.5 441.0,170.0 C443.7,170.5 447.5,170.3 449.0,172.0 C450.5,173.7 448.7,178.0 450.0,180.0 C451.3,182.0 453.7,182.8 457.0,184.0 C460.3,185.2 462.8,189.3 470.0,187.0 C477.2,184.7 485.0,172.8 500.0,170.0 C515.0,167.2 541.7,167.5 560.0,170.0 C578.3,172.5 603.3,179.3 610.0,185.0 C616.7,190.7 602.7,199.8 600.0,204.0 C597.3,208.2 596.3,207.7 594.0,210.0 C591.7,212.3 589.0,215.3 586.0,218.0 C583.0,220.7 579.3,222.7 576.0,226.0 C572.7,229.3 569.3,234.7 566.0,238.0 C562.7,241.3 559.3,243.7 556.0,246.0 C552.7,248.3 549.3,249.8 546.0,252.0 C542.7,254.2 539.2,255.8 536.0,259.0 C532.8,262.2 529.8,267.0 527.0,271.0 C524.2,275.0 521.3,278.7 519.0,283.0 C516.7,287.3 515.3,292.7 513.0,297.0 C510.7,301.3 508.0,305.7 505.0,309.0 C502.0,312.3 498.0,313.7 495.0,317.0 C492.0,320.3 489.0,325.0 487.0,329.0 C485.0,333.0 483.7,335.8 483.0,341.0 C482.3,346.2 483.2,354.5 483.0,360.0 C482.8,365.5 483.0,370.7 482.0,374.0 C481.0,377.3 479.2,378.7 477.0,380.0 C474.8,381.3 471.3,382.3 469.0,382.0 C466.7,381.7 465.3,380.3 463.0,378.0 C460.7,375.7 457.0,371.0 455.0,368.0 C453.0,365.0 452.3,362.5 451.0,360.0 C449.7,357.5 448.3,356.8 447.0,353.0 C445.7,349.2 443.2,342.0 443.0,337.0 C442.8,332.0 446.0,327.7 446.0,323.0 C446.0,318.3 443.3,314.3 443.0,309.0 C442.7,303.7 443.0,296.3 444.0,291.0 C445.0,285.7 447.2,281.3 449.0,277.0 C450.8,272.7 453.5,269.0 455.0,265.0 C456.5,261.0 457.2,255.8 458.0,253.0 C458.8,250.2 457.9,251.2 460.0,248.5 C462.1,245.8 467.2,240.0 470.5,236.5 C473.8,233.0 476.5,230.2 479.5,227.5 C482.5,224.8 485.8,222.0 488.5,220.0 C491.2,218.0 495.8,217.2 496.0,215.5 C496.2,213.8 493.5,211.5 490.0,209.5 C486.5,207.5 478.2,206.1 475.0,203.5 C471.8,200.9 472.2,195.4 470.5,194.0 C468.8,192.6 467.2,195.2 465.0,195.0 C462.8,194.8 459.5,193.3 457.0,192.5 C454.5,191.7 452.0,191.1 450.0,190.0 C448.0,188.9 446.3,187.7 445.0,186.0 C443.7,184.3 443.2,181.8 442.0,180.0 C440.8,178.2 439.3,176.2 438.0,175.0 C436.7,173.8 434.8,174.0 434.0,173.0 C433.2,172.0 431.8,169.5 433.0,169.0Z" fill="#0000e1"/>
<path d="M525.0,178.0 L537.0,178.0 L537.0,190.0 L535.0,196.0 L531.0,197.0 L527.0,193.0 L526.0,186.0Z" fill="#61b8ff"/>
<path d="M495.0,174.0 L506.0,174.0 L506.0,188.0 L503.0,190.0 L499.0,189.0 L497.0,186.0Z" fill="#61b8ff"/>
<path d="M510.5,243.7 C510.5,242.2 511.2,239.7 512.0,238.0 C512.8,236.3 513.8,235.3 515.0,233.5 C516.2,231.7 517.4,229.2 519.0,227.0 C520.6,224.8 522.7,222.3 524.4,220.5 C526.1,218.7 527.3,217.2 529.0,216.0 C530.7,214.8 532.9,213.6 534.7,213.0 C536.5,212.4 538.5,212.0 540.0,212.5 C541.5,213.0 542.8,214.2 543.5,215.8 C544.2,217.4 544.4,220.0 544.5,222.0 C544.6,224.0 544.6,225.7 544.0,228.0 C543.4,230.3 542.1,233.7 541.0,236.0 C539.9,238.3 539.2,240.2 537.5,241.9 C535.8,243.7 533.2,245.4 531.0,246.5 C528.8,247.6 526.7,248.2 524.4,248.4 C522.1,248.7 519.1,248.2 517.0,248.0 C514.9,247.8 513.1,247.7 512.0,247.0 C510.9,246.3 510.5,245.2 510.5,243.7Z" fill="#fa00fa"/>
<path d="M457.4,301.4 C457.7,299.4 459.6,297.1 461.0,295.0 C462.4,292.9 464.4,290.9 466.0,289.0 C467.6,287.1 468.7,285.4 470.5,283.7 C472.3,282.0 474.8,280.6 477.0,279.0 C479.2,277.4 481.3,276.2 483.5,274.4 C485.7,272.6 487.8,270.0 490.0,268.0 C492.2,266.0 494.7,263.6 496.5,262.3 C498.3,261.0 499.7,260.2 501.0,260.0 C502.3,259.8 503.5,260.2 504.5,261.0 C505.5,261.8 506.5,263.7 507.0,265.0 C507.5,266.3 508.0,267.0 507.7,269.0 C507.4,271.0 506.3,274.6 505.0,277.0 C503.7,279.4 501.8,281.0 500.0,283.7 C498.2,286.4 496.2,290.1 494.0,293.0 C491.8,295.9 489.3,299.1 487.0,301.4 C484.7,303.7 482.3,305.2 480.0,307.0 C477.7,308.8 474.9,310.9 473.0,312.0 C471.1,313.1 470.3,313.5 468.6,313.5 C466.9,313.5 464.6,313.1 463.0,312.0 C461.4,310.9 459.9,308.8 459.0,307.0 C458.1,305.2 457.1,303.4 457.4,301.4Z" fill="#fa00fa"/>
<path d="M462.3,343.1 C462.6,343.8 462.8,344.7 462.8,345.4 C462.8,346.1 462.7,346.8 462.5,347.2 C462.3,347.7 461.9,348.1 461.5,348.2 C461.1,348.4 460.6,348.3 460.2,348.1 C459.7,347.9 459.2,347.4 458.7,346.9 C458.3,346.3 457.9,345.6 457.7,344.9 C457.4,344.2 457.2,343.3 457.2,342.6 C457.2,341.9 457.3,341.2 457.5,340.8 C457.7,340.3 458.1,339.9 458.5,339.8 C458.9,339.6 459.4,339.7 459.8,339.9 C460.3,340.1 460.8,340.6 461.3,341.1 C461.7,341.7 462.1,342.4 462.3,343.1Z" fill="#fa00fa"/>
</g>
</g>
<g font-size="11.3" fill="#00003a" fill-opacity="0.38" text-anchor="middle" aria-hidden="true">
<text x="464.5" y="243.0">绵阳市</text>
<text x="578.5" y="237.5">巴中市</text>
<text x="452.7" y="281.0">德阳市</text>
<text x="537.0" y="279.5">南充市</text>
<text x="503.5" y="305.0">遂宁市</text>
<text x="476.5" y="331.0">资阳市</text>
<text x="470.5" y="359.4">内江市</text>
<text x="461.5" y="377.4">自贡市</text>
</g>
<g stroke="#000" stroke-opacity="0.5" stroke-width="0.5" stroke-dasharray="1.9,1.3" fill="none">
<path d="M84.5,70.3 V586.1"/>
<path d="M133.7,70.3 V586.1"/>
<path d="M182.8,70.3 V586.1"/>
<path d="M232.0,70.3 V586.1"/>
<path d="M281.2,70.3 V586.1"/>
<path d="M330.4,70.3 V586.1"/>
<path d="M379.5,70.3 V586.1"/>
<path d="M428.7,70.3 V586.1"/>
<path d="M477.9,70.3 V586.1"/>
<path d="M527.0,70.3 V586.1"/>
<path d="M576.2,70.3 V586.1"/>
<path d="M625.4,70.3 V586.1"/>
<path d="M674.5,70.3 V586.1"/>
<path d="M48.4,534.5 H711.3"/>
<path d="M48.4,482.9 H711.3"/>
<path d="M48.4,431.4 H711.3"/>
<path d="M48.4,379.8 H711.3"/>
<path d="M48.4,328.2 H711.3"/>
<path d="M48.4,276.6 H711.3"/>
<path d="M48.4,225.0 H711.3"/>
<path d="M48.4,173.5 H711.3"/>
<path d="M48.4,121.9 H711.3"/>
</g>
<g filter="url(#soft2)">
<g clip-path="url(#prov)" fill="none" stroke-linejoin="round" stroke-linecap="round">
<g stroke="#2e382e" stroke-opacity="0.6" stroke-width="0.55">
<path d="M146.0,203.0 L148.9,201.7 L152.0,201.0 L154.7,201.6 L157.3,202.6 L160.0,203.0 L162.9,205.2 L166.0,207.0 L168.8,205.9 L171.3,204.3 L174.0,203.0 L176.0,201.2 L177.5,199.0 L178.9,196.7 L181.0,195.0 L183.0,192.0 L185.0,189.0 L187.3,187.6 L190.0,187.0 L190.9,183.6 L191.0,180.0"/>
<path d="M190.0,187.0 L191.4,189.3 L193.3,191.3 L194.1,194.0 L196.0,196.0 L197.7,198.8 L200.0,201.0 L201.9,203.6 L204.0,206.0 L205.5,208.4 L206.7,210.9 L207.9,213.4 L209.0,216.0 L208.5,218.6 L208.6,221.4 L208.0,224.0 L207.2,226.6 L207.8,229.4 L207.0,232.0 L208.6,234.5 L210.0,237.1 L211.0,240.0 L209.3,241.8 L208.0,244.0 L205.3,243.5 L202.7,242.7 L200.0,242.0 L197.4,242.8 L194.6,243.2 L192.0,244.0 L189.0,245.1 L186.0,246.0 L185.3,248.8 L184.1,251.4 L183.0,254.0 L180.4,255.8 L177.9,257.7 L175.0,259.0"/>
<path d="M191.0,180.0 L194.1,181.0 L197.0,182.8 L200.0,184.0 L202.9,185.7 L205.2,188.2 L208.0,190.0 L209.9,192.1 L212.1,193.9 L213.9,196.1 L216.0,198.0 L218.6,200.1 L221.6,201.6 L224.0,204.0 L225.0,206.7 L225.9,209.4 L227.0,212.0 L225.6,214.7 L224.0,217.2 L223.0,220.0 L224.5,222.8 L226.4,225.3 L228.0,228.0 L230.2,229.8 L232.0,232.0 L233.7,229.3 L236.2,227.2 L238.1,224.6 L240.0,222.0 L244.0,220.0 L245.6,222.7 L247.4,225.3 L249.0,228.0 L250.5,231.0 L252.0,234.0 L254.7,234.4 L257.3,235.4 L260.0,236.0 L262.8,237.0 L265.3,238.8 L268.0,240.0 L270.5,241.1 L272.9,242.2 L275.6,242.8 L278.0,244.0 L280.0,246.5 L281.5,249.2 L283.0,252.0"/>
<path d="M211.0,240.0 L212.9,242.4 L215.5,244.0 L217.6,246.2 L220.0,248.0 L222.5,250.2 L225.5,251.8 L228.0,254.0 L229.9,256.8 L231.0,260.0 L229.9,262.6 L229.4,265.5 L228.0,268.0"/>
<path d="M232.0,232.0 L233.6,234.9 L235.7,237.6 L238.0,240.0 L239.8,242.8 L242.2,245.2 L244.0,248.0 L245.5,250.6 L246.5,253.4 L248.0,256.0 L250.5,257.6 L253.5,258.2 L256.0,260.0 L257.6,262.5 L258.3,265.5 L260.0,268.0 L262.9,269.7 L265.2,272.1 L268.0,274.0 L270.6,273.2 L273.4,272.8 L276.0,272.0 L277.8,269.2 L279.1,266.0 L280.4,263.0 L282.0,260.0 L282.2,257.3 L282.8,254.7 L283.0,252.0"/>
<path d="M208.0,244.0 L209.7,246.3 L212.1,247.9 L213.8,250.2 L215.7,252.3 L218.0,254.0 L218.8,256.6 L219.1,259.4 L220.0,262.0 L222.8,263.9 L225.5,265.7 L228.0,268.0"/>
<path d="M290.0,192.0 L290.8,194.7 L291.6,197.5 L293.0,200.0 L295.6,200.9 L297.4,203.1 L300.0,204.0 L301.7,207.2 L304.0,210.0 L303.1,212.9 L301.1,215.2 L300.0,218.0 L297.7,220.8 L296.0,224.0 L299.2,225.7 L302.0,228.0 L304.7,228.5 L307.3,227.9 L310.0,228.0 L312.5,229.5 L314.9,231.1 L317.4,232.7 L320.0,234.0 L321.8,235.9 L324.1,237.3 L326.0,239.2 L328.0,241.0 L331.4,241.3 L334.7,242.1 L338.0,243.0 L341.0,242.5 L344.0,242.0 L346.3,244.4 L348.1,247.2 L350.0,250.0 L349.7,253.0 L350.3,256.0 L350.0,259.0"/>
<path d="M296.0,224.0 L293.4,224.9 L290.6,225.3 L288.0,226.0 L284.7,227.6 L282.0,230.0 L280.5,232.6 L279.3,235.3 L278.0,238.0 L279.5,240.6 L281.0,243.2 L282.0,246.0 L284.4,247.8 L287.2,248.9 L290.0,250.0"/>
<path d="M330.0,192.0 L332.8,189.7 L336.0,188.0 L338.2,186.2 L340.0,184.0 L342.6,183.4 L345.0,181.9 L347.4,180.8 L350.0,180.0 L351.8,177.3 L353.7,174.7 L355.8,172.3 L358.0,170.0 L359.8,167.2 L362.3,164.9 L364.0,162.0 L366.4,160.7 L368.9,159.7 L371.7,159.4 L374.0,158.0 L377.3,158.4 L380.7,157.6 L384.0,158.0 L386.8,159.9 L389.0,162.4 L392.0,164.0 L394.1,165.9 L395.9,168.1 L398.0,170.0 L396.8,172.9 L396.0,176.0 L392.9,177.9 L390.0,180.0 L387.2,179.8 L384.7,178.5 L382.0,178.0 L379.7,180.8 L378.0,184.0 L376.0,186.7 L374.1,189.4 L372.0,192.0 L369.8,194.9 L368.0,198.0 L365.7,199.7 L364.0,202.0"/>
<path d="M340.0,184.0 L340.2,186.7 L340.0,189.3 L340.0,192.0 L342.0,195.0 L344.0,198.0 L341.2,197.7 L338.7,196.7 L336.0,196.0 L333.3,193.6 L330.0,192.0 L327.3,193.3 L324.7,194.6 L322.0,196.0 L319.8,198.5 L318.0,201.4 L316.0,204.0 L314.2,206.2 L311.8,207.8 L310.0,210.0 L307.0,210.3 L304.0,210.0"/>
<path d="M356.0,218.0 L357.7,220.3 L360.1,221.9 L362.0,224.0 L362.4,226.7 L363.6,229.3 L364.0,232.0 L363.4,235.3 L362.9,238.7 L362.0,242.0 L362.3,244.8 L363.1,247.6 L363.1,250.5 L363.5,253.3 L364.1,256.1 L364.0,259.0"/>
<path d="M398.0,170.0 L400.8,169.0 L403.2,167.1 L406.0,166.0 L407.4,163.7 L408.0,161.0 L408.9,158.5 L410.0,156.0 L409.4,152.6 L408.3,149.4 L408.0,146.0 L405.7,143.2 L404.0,140.0 L403.3,137.0 L402.4,134.1 L402.0,131.0"/>
<path d="M390.0,196.0 L391.4,198.7 L392.5,201.4 L394.0,204.0 L395.9,206.1 L397.9,208.1 L400.0,210.0 L400.1,213.1 L400.8,216.0 L401.8,218.9 L402.0,222.0 L400.9,224.8 L399.4,227.4 L398.0,230.0 L395.3,229.4 L392.8,228.2 L390.0,228.0 L387.4,227.1 L384.7,226.7 L382.0,226.0 L379.4,227.5 L376.8,228.9 L374.0,230.0 L370.6,230.6 L367.3,230.9 L364.0,232.0"/>
<path d="M402.0,222.0 L403.9,224.3 L404.7,227.2 L406.3,229.6 L408.0,232.0 L409.1,235.2 L409.3,238.7 L410.0,242.0 L409.6,244.7 L408.3,247.2 L408.0,250.0 L409.7,252.9 L412.2,255.2 L414.0,258.0"/>
<path d="M364.0,202.0 L366.8,203.1 L369.5,204.3 L372.0,206.0 L374.6,205.2 L376.9,203.8 L379.5,203.1 L382.0,202.0 L384.5,199.7 L387.6,198.4 L390.0,196.0"/>
<path d="M342.0,242.0 L342.3,244.8 L343.6,247.3 L344.0,250.0 L343.7,253.4 L343.0,256.7 L342.0,260.0 L342.1,262.7 L342.3,265.4 L343.0,268.0 L340.3,268.5 L338.0,270.0"/>
<path d="M362.0,240.0 L362.4,243.4 L363.2,246.7 L364.0,250.0 L364.8,252.6 L366.5,254.8 L366.9,257.6 L368.0,260.0 L369.8,262.2 L372.0,264.0 L374.0,266.0 L378.0,268.0"/>
<path d="M384.0,262.0 L386.4,260.8 L388.9,259.7 L391.5,258.9 L394.0,258.0 L395.8,255.8 L397.9,253.9 L399.7,251.7 L402.0,250.0 L403.0,247.3 L404.1,244.7 L405.0,242.0 L403.9,239.4 L403.3,236.6 L402.0,234.0 L399.7,232.3 L398.0,230.0"/>
<path d="M310.0,282.0 L309.1,284.6 L309.0,287.4 L308.0,290.0 L309.7,292.5 L310.8,295.3 L312.0,298.0 L313.1,300.8 L314.8,303.2 L316.0,306.0 L318.6,304.6 L320.7,302.8 L323.0,301.0 L325.4,299.4 L327.7,297.7 L330.0,296.0 L331.5,294.0 L333.0,292.0"/>
<path d="M351.0,310.0 L354.5,310.4 L358.0,310.0 L360.2,311.8 L361.8,314.2 L364.0,316.0 L366.0,318.0 L368.3,316.3 L370.0,314.0 L372.7,312.7 L375.3,311.3 L378.0,310.0"/>
<path d="M372.0,282.0 L372.4,284.8 L373.1,287.6 L372.8,290.5 L373.5,293.2 L374.0,296.0 L374.7,298.8 L375.2,301.7 L376.8,304.3 L376.9,307.3 L378.0,310.0"/>
<path d="M184.0,308.0 L186.5,306.3 L189.4,305.4 L192.0,304.0 L194.6,303.2 L197.4,303.1 L200.0,302.0 L201.8,300.1 L203.4,298.0 L205.0,296.0 L207.2,298.3 L210.0,300.0 L212.4,298.8 L215.0,298.0 L216.9,296.2 L218.3,294.0 L220.0,292.0 L222.6,293.5 L225.1,295.1 L228.0,296.0 L231.2,297.3 L234.6,298.1 L238.0,299.0 L240.9,300.0 L244.1,300.0 L247.0,301.2 L250.0,302.0 L252.4,303.3 L254.9,304.2 L257.5,305.0 L260.0,306.0 L262.6,305.1 L265.3,304.5 L268.0,304.0 L271.0,301.9 L274.0,300.0 L274.3,297.2 L275.8,294.8 L276.0,292.0 L274.8,289.3 L273.4,286.7 L272.0,284.0 L272.7,280.9 L273.8,277.9 L274.9,275.0 L276.0,272.0"/>
<path d="M215.0,298.0 L214.3,300.7 L213.6,303.3 L213.0,306.0 L215.2,308.9 L217.0,312.0 L215.4,314.3 L214.3,316.9 L213.0,319.4 L212.0,322.0 L211.8,325.0 L211.2,328.0 L211.0,331.0 L211.0,334.0 L211.6,337.4 L212.7,340.6 L213.0,344.0 L211.5,346.0 L210.0,348.0 L208.1,350.3 L207.0,353.0 L205.6,355.6 L204.0,358.0 L203.1,361.0 L202.8,364.1 L201.9,367.0 L201.0,370.0 L198.5,372.1 L196.4,374.7 L194.0,377.0 L190.0,378.0"/>
<path d="M213.0,344.0 L215.6,345.7 L217.9,347.7 L220.0,350.0 L221.6,352.5 L223.3,354.8 L224.2,357.7 L226.0,360.0 L228.4,362.4 L230.0,365.4 L232.0,368.0 L233.2,371.3 L233.7,374.8 L235.0,378.0 L235.0,381.4 L234.5,384.7 L234.0,388.0 L233.2,390.6 L232.2,393.1 L231.5,395.7 L230.0,398.0 L230.7,401.3 L231.7,404.6 L232.0,408.0"/>
<path d="M226.0,360.0 L226.5,356.7 L226.0,353.3 L226.0,350.0 L227.8,347.8 L230.3,346.3 L232.0,344.0 L235.0,345.9 L238.0,348.0 L239.1,350.8 L241.1,353.1 L242.0,356.0 L244.3,358.3 L245.6,361.3 L247.8,363.7 L250.0,366.0 L252.3,367.7 L254.0,370.0 L256.1,371.9 L258.0,374.0 L260.8,375.1 L263.5,376.3 L266.0,378.0"/>
<path d="M201.0,370.0 L202.4,372.3 L204.7,373.8 L206.0,376.2 L208.0,378.0 L207.5,380.7 L206.4,383.3 L206.0,386.0 L208.1,388.9 L210.0,392.0 L212.6,390.6 L215.0,389.0"/>
<path d="M252.0,318.0 L256.0,316.0 L257.9,318.1 L260.0,320.0 L263.0,319.1 L266.0,318.0 L268.0,316.0 L270.0,314.0 L272.9,316.1 L276.0,318.0 L275.4,320.7 L274.7,323.3 L274.0,326.0 L270.8,324.8 L268.0,323.0 L264.7,323.4 L261.3,322.9 L258.0,323.0 L255.1,323.9 L252.0,324.0 L252.2,321.0 L252.0,318.0"/>
<path d="M256.0,328.0 L257.7,330.5 L258.6,333.4 L260.0,336.0 L262.0,338.0 L264.3,339.7 L266.3,341.7 L268.0,344.0 L268.2,346.8 L269.4,349.3 L270.0,352.0 L271.5,354.6 L272.5,357.4 L274.0,360.0 L274.2,363.4 L275.5,366.6 L276.0,370.0 L278.0,374.0"/>
<path d="M284.0,371.0 L283.8,367.9 L282.4,365.1 L282.0,362.0 L284.7,360.7 L287.2,359.0 L290.0,358.0 L290.6,355.3 L291.7,352.9 L293.1,350.6 L294.0,348.0 L293.8,345.3 L294.2,342.7 L294.0,340.0 L297.1,338.2 L300.0,336.0 L299.4,332.7 L298.2,329.4 L298.0,326.0 L296.3,323.5 L295.1,320.8 L294.0,318.0 L295.2,315.3 L297.0,312.9 L298.0,310.0 L296.2,307.8 L294.0,306.0 L290.0,304.0 L287.0,304.1 L284.0,304.0 L280.9,303.3 L278.0,302.0 L274.0,300.0"/>
<path d="M282.0,362.0 L285.0,363.1 L287.9,364.3 L291.1,364.8 L294.0,366.0 L296.6,365.4 L299.1,364.4 L301.7,363.4 L304.0,362.0 L306.9,364.1 L310.0,366.0 L313.5,364.8 L317.0,364.0 L319.9,365.6 L323.2,366.3 L326.0,368.0 L328.0,370.7 L330.3,373.1 L332.0,376.0"/>
<path d="M294.0,306.0 L296.7,305.4 L299.3,304.4 L302.0,304.0 L304.7,303.6 L307.4,303.0 L310.0,302.0 L312.6,303.5 L315.5,304.2 L318.0,306.0 L320.2,308.9 L322.0,312.0"/>
<path d="M290.0,250.0 L292.1,251.9 L293.8,254.2 L296.0,256.0"/>
<path d="M300.0,398.0 L301.1,401.0 L302.1,404.0 L302.6,407.1 L304.0,410.0 L306.4,412.3 L309.4,413.8 L312.0,416.0 L313.2,419.2 L314.6,422.2 L316.2,425.2 L318.0,428.0 L321.0,429.6 L323.0,432.4 L326.0,434.0 L327.2,436.9 L327.7,440.1 L329.3,442.9 L330.0,446.0 L332.6,447.4 L335.4,448.6 L338.0,450.0"/>
<path d="M318.0,428.0 L316.0,430.0 L314.0,432.0 L311.8,433.8 L310.0,436.0 L307.4,436.7 L305.1,438.1 L302.5,439.0 L300.0,440.0 L297.9,441.9 L295.9,443.9 L293.7,445.7 L292.0,448.0 L289.1,446.8 L286.0,446.0 L283.1,447.7 L280.6,449.9 L278.0,452.0"/>
<path d="M338.0,450.0 L340.7,448.7 L343.2,447.1 L346.0,446.0 L348.4,443.6 L350.3,440.9 L352.0,438.0 L354.7,437.6 L357.4,437.0 L360.0,436.0 L361.6,433.0 L364.2,430.8 L366.0,428.0 L369.1,428.6 L372.0,430.0 L373.1,432.5 L374.0,435.0 L375.2,437.4 L376.0,440.0 L378.6,442.0 L381.4,444.0 L384.0,446.0 L386.3,447.7 L388.2,449.8 L390.0,452.0"/>
<path d="M360.0,436.0 L360.3,439.0 L360.9,442.0 L361.4,445.0 L362.0,448.0 L361.0,450.5 L359.7,452.9 L359.4,455.6 L358.0,458.0 L360.2,460.5 L361.9,463.4 L364.0,466.0 L367.4,466.3 L370.6,467.5 L374.0,468.0"/>
<path d="M326.0,434.0 L328.7,432.1 L331.4,430.0 L334.0,428.0 L335.3,425.3 L336.9,422.8 L338.0,420.0 L340.6,418.6 L343.2,417.0 L346.0,416.0 L347.5,413.4 L348.3,410.5 L350.0,408.0 L349.5,405.3 L348.2,402.9 L346.6,400.7 L346.0,398.0 L347.1,395.2 L349.1,392.9 L350.0,390.0 L348.9,387.2 L347.4,384.6 L346.0,382.0"/>
<path d="M366.0,428.0 L366.2,424.6 L367.2,421.3 L368.0,418.0 L371.0,416.4 L373.2,413.8 L376.0,412.0 L376.5,408.6 L377.6,405.4 L378.0,402.0 L380.8,401.0 L383.3,399.3 L386.0,398.0 L387.7,395.5 L389.0,392.8 L390.0,390.0"/>
<path d="M319.0,476.0 L318.1,479.5 L316.6,482.7 L316.9,485.4 L316.9,488.2 L317.4,490.9 L319.3,492.9 L320.4,495.5 L322.3,497.4 L325.0,497.1 L327.8,497.0 L330.5,497.4"/>
<path d="M306.8,499.0 L310.9,497.4 L314.0,496.1 L317.4,495.8 L319.8,496.8 L322.3,497.4"/>
<path d="M342.7,478.6 L345.7,477.5 L348.5,476.0 L349.8,473.3 L351.7,471.0 L355.0,469.6 L358.2,468.1 L361.5,467.0 L364.8,467.0 L368.0,467.0 L370.7,467.9 L373.0,469.6"/>
<path d="M355.0,469.6 L355.5,472.3 L356.5,475.0 L356.6,477.8 L357.5,480.6 L359.2,483.1 L360.0,486.0 L361.3,488.6 L363.0,490.9 L365.2,488.8 L368.0,487.6 L371.3,488.1 L374.6,489.0"/>
<path d="M363.0,490.9 L360.3,493.0 L357.6,495.1 L355.0,497.4 L352.8,498.9 L350.7,500.5 L348.5,502.0 L349.4,505.4 L350.0,508.9 L351.4,511.5 L353.4,513.8 L356.6,516.0"/>
<path d="M351.7,471.0 L352.1,468.3 L352.1,465.7 L351.7,463.0 L352.1,459.6 L353.4,456.5 L352.7,453.7 L352.2,450.9 L352.0,448.0"/>
<path d="M328.9,469.6 L329.6,466.3 L330.5,463.0 L331.6,460.6 L333.2,458.5 L334.0,456.0 L336.2,453.1 L338.0,450.0"/>
<path d="M366.5,463.0 L368.0,467.0"/>
<path d="M332.0,358.0 L333.7,360.5 L334.6,363.4 L336.0,366.0 L338.5,368.2 L341.6,369.7 L344.0,372.0 L344.6,375.3 L344.9,378.7 L346.0,382.0 L344.1,384.1 L342.3,386.3 L340.0,388.0"/>
<path d="M346.0,382.0 L348.5,381.1 L350.9,379.7 L353.7,379.4 L356.0,378.0 L358.6,376.0 L361.3,374.0 L364.0,372.0 L365.1,369.5 L366.2,367.1 L367.3,364.6 L368.0,362.0 L370.8,361.0 L373.2,359.2 L376.0,358.0 L377.0,355.4 L377.5,352.7 L378.0,350.0"/>
<path d="M368.0,362.0 L370.7,363.9 L373.3,366.1 L376.0,368.0 L376.2,371.4 L377.8,374.6 L378.0,378.0 L380.6,380.1 L383.0,382.4 L386.0,384.0 L388.2,386.9 L390.0,390.0 L392.8,390.3 L395.3,391.3 L398.0,392.0 L399.7,394.5 L400.9,397.2 L402.0,400.0 L404.5,401.6 L407.3,402.8 L410.0,404.0 L413.0,404.9 L416.0,405.3 L419.0,406.0"/>
<path d="M384.0,350.0 L386.9,351.7 L389.5,353.8 L392.0,356.0 L394.6,355.0 L397.2,354.2 L400.0,354.0 L401.1,356.8 L402.6,359.4 L404.0,362.0 L406.7,363.2 L409.5,364.3 L412.0,366.0 L413.1,368.8 L414.9,371.2 L416.0,374.0 L418.8,375.0 L421.4,376.6 L424.0,378.0 L426.3,380.5 L428.1,383.3 L430.0,386.0 L430.8,389.0 L431.0,392.1 L432.3,395.0 L433.0,398.0"/>
<path d="M390.0,390.0 L391.0,386.7 L391.7,383.4 L392.0,380.0 L394.5,378.4 L397.2,377.2 L400.0,376.0 L401.3,373.3 L402.4,370.5 L404.0,368.0 L403.6,365.0 L404.0,362.0"/>
<path d="M378.0,342.0 L380.4,343.2 L382.9,344.3 L385.3,345.4 L388.0,346.0 L390.7,344.8 L393.2,343.1 L396.0,342.0 L398.5,343.8 L401.1,345.0 L404.0,346.0 L406.7,344.7 L409.3,343.3 L412.0,342.0 L414.6,343.4 L417.4,344.6 L420.0,346.0 L422.8,344.9 L425.4,343.5 L428.0,342.0 L430.6,342.8 L433.3,343.4 L436.0,344.0"/>
<path d="M414.0,256.0 L415.7,258.3 L418.1,259.9 L420.0,262.0 L422.6,261.0 L425.4,261.1 L428.0,260.0 L429.8,262.2 L431.9,264.1 L434.0,266.0 L437.1,265.4 L440.0,264.0"/>
<path d="M404.0,278.0 L406.5,279.1 L409.4,278.9 L412.0,280.0 L414.6,278.5 L417.5,277.6 L420.0,276.0 L422.4,278.3 L425.3,280.1 L428.0,282.0 L430.7,281.4 L433.4,281.0 L436.0,280.0 L438.7,282.4 L442.0,284.0"/>
<path d="M408.0,308.0 L410.2,309.8 L411.7,312.3 L414.0,314.0 L416.6,313.2 L419.4,313.0 L422.0,312.0 L424.0,314.0 L426.3,315.7 L428.0,318.0 L430.7,317.3 L433.4,316.9 L436.0,316.0"/>
<path d="M430.0,200.0 L432.6,202.1 L435.3,204.0 L438.0,206.0 L439.7,208.9 L441.6,211.6 L444.0,214.0 L446.5,215.6 L449.4,216.6 L452.0,218.0 L454.0,220.7 L455.8,223.5 L458.0,226.0 L460.6,226.7 L463.4,227.1 L466.0,228.0 L468.2,229.6 L469.7,232.0 L472.0,233.5"/>
<path d="M436.0,175.0 L437.0,177.7 L437.6,180.6 L439.2,183.2 L440.0,186.0 L442.1,187.9 L444.2,189.8 L446.2,191.8 L448.0,194.0 L448.6,196.7 L450.3,198.9 L450.9,201.5 L452.0,204.0 L454.7,205.9 L457.1,208.3 L460.0,210.0 L462.3,212.4 L464.3,215.1 L466.0,218.0 L466.1,221.3 L466.5,224.7 L466.0,228.0"/>
<path d="M452.0,204.0 L449.9,206.4 L448.2,209.2 L446.4,211.8 L444.0,214.0"/>
<path d="M602.0,238.0 L605.1,236.2 L608.0,234.0 L610.5,235.1 L613.2,235.8 L616.0,236.0 L619.2,237.7 L622.0,240.0 L625.3,239.3 L628.7,238.9 L632.0,238.0 L633.5,235.5 L635.3,233.3 L636.9,230.9 L638.0,228.2 L640.0,226.0"/>
<path d="M594.0,256.0 L596.9,253.9 L600.0,252.0 L602.0,248.0 L602.2,244.7 L601.7,241.3 L602.0,238.0"/>
<path d="M588.0,268.0 L589.7,265.1 L591.9,262.6 L594.0,260.0 L594.0,256.0"/>
<path d="M588.0,268.0 L588.6,270.7 L589.3,273.3 L590.0,276.0 L592.6,276.7 L594.9,278.4 L597.4,279.1 L600.0,280.0 L603.3,279.3 L606.7,278.9 L610.0,278.0 L612.1,276.1 L614.3,274.3 L616.0,272.0 L618.7,272.7 L621.4,272.9 L624.0,274.0"/>
<path d="M576.0,288.0 L576.9,285.1 L579.0,282.8 L580.0,280.0 L581.1,277.2 L582.4,274.5 L584.0,272.0 L586.0,270.0 L588.0,268.0"/>
<path d="M556.0,294.0 L555.3,296.7 L554.7,299.3 L554.0,302.0 L555.9,304.1 L558.0,306.0 L560.0,308.0 L563.4,307.7 L566.6,306.5 L570.0,306.0 L570.5,303.3 L571.2,300.6 L572.0,298.0 L569.7,296.3 L568.0,294.0 L567.0,291.4 L566.2,288.8 L566.0,286.0"/>
<path d="M560.0,308.0 L560.4,311.0 L560.2,314.0 L559.6,317.0 L560.0,320.0"/>
<path d="M570.0,306.0 L571.8,308.5 L572.3,311.5 L574.0,314.0 L573.6,317.0 L574.4,320.0 L574.3,323.0 L574.0,326.0"/>
<path d="M503.0,366.0 L504.3,368.6 L504.9,371.4 L506.0,374.0 L504.7,376.7 L503.5,379.4 L502.0,382.0 L503.7,384.5 L504.4,387.4 L506.0,390.0 L504.9,392.6 L504.9,395.4 L504.0,398.0 L505.1,400.5 L506.3,402.9 L508.0,405.0"/>
<path d="M509.0,410.5 L508.3,413.7 L507.4,417.0 L506.0,420.0 L507.1,422.5 L507.6,425.2 L508.8,427.6 L510.0,430.0 L509.1,433.3 L508.4,436.6 L508.0,440.0 L508.8,442.7 L509.3,445.5 L510.6,448.0"/>
<path d="M502.0,382.0 L504.6,382.9 L507.3,383.3 L510.0,384.0 L512.9,382.4 L516.0,381.0"/>
<path d="M449.0,420.0 L452.1,421.1 L454.9,422.8 L458.0,424.0 L460.7,422.7 L463.2,421.0 L466.0,420.0 L468.5,422.2 L471.4,423.9 L474.0,426.0 L477.0,426.6 L480.0,426.4 L483.0,427.0"/>
<path d="M466.0,420.0 L466.9,416.7 L467.7,413.4 L468.0,410.0 L470.1,407.4 L471.9,404.6 L474.0,402.0 L473.1,398.7 L472.4,395.4 L472.0,392.0 L473.0,389.2 L474.9,386.8 L476.0,384.0"/>
<path d="M451.0,410.0 L454.1,408.9 L457.0,407.4 L460.0,406.0 L462.5,407.8 L465.5,408.3 L468.0,410.0"/>
<path d="M520.0,300.0 L521.9,297.9 L523.8,295.8 L526.0,294.0 L528.6,295.0 L531.3,295.6 L534.0,296.0 L536.3,294.3 L538.0,292.0 L540.0,290.0"/>
<path d="M536.0,271.0 L538.8,272.5 L541.2,274.5 L544.0,276.0 L545.1,278.8 L546.5,281.4 L548.0,284.0 L550.7,285.3 L553.4,286.5 L556.0,288.0"/>
<path d="M552.0,264.0 L553.8,266.2 L556.0,268.0 L558.0,270.0 L560.9,270.9 L563.4,272.5 L566.0,274.0"/>
<path d="M566.0,238.0 L568.0,240.6 L570.4,243.1 L572.0,246.0 L571.9,248.7 L571.7,251.3 L572.0,254.0"/>
</g>
<g stroke="#4a524a" stroke-opacity="0.66" stroke-width="1.25">
<path d="M263.0,196.0 L261.9,198.6 L261.2,201.4 L260.0,204.0 L258.0,208.0 L260.4,210.3 L262.1,213.2 L264.0,216.0 L265.7,218.3 L268.1,219.9 L270.0,222.0 L271.9,224.7 L274.3,227.1 L276.0,230.0 L277.1,233.0 L278.0,236.0 L281.0,236.9 L284.0,238.0 L286.3,240.8 L288.0,244.0 L289.3,246.9 L290.0,250.0 L292.3,251.7 L293.7,254.3 L296.0,256.0 L298.7,255.7 L301.3,255.3 L304.0,255.0 L306.6,256.3 L309.3,257.2 L312.0,258.0 L314.8,259.1 L317.1,261.0 L320.0,262.0 L322.6,264.0 L325.0,266.4 L328.0,268.0 L330.2,269.8 L332.0,272.0 L334.9,270.8 L338.0,270.0 L338.8,272.6 L338.3,275.4 L339.0,278.0 L337.2,279.9 L335.4,281.8 L334.0,284.0 L333.8,286.7 L332.9,289.3 L333.0,292.0 L335.4,293.3 L338.0,294.0"/>
<path d="M338.0,294.0 L340.6,293.2 L343.4,293.0 L346.0,292.0 L349.0,291.0 L352.0,290.0 L354.0,288.0 L355.8,285.8 L358.0,284.0 L360.7,282.8 L363.2,281.1 L366.0,280.0 L368.8,281.5 L372.0,282.0 L374.2,284.8 L376.0,288.0 L378.7,288.5 L381.3,287.6 L384.0,288.0 L387.0,286.9 L390.0,286.0 L392.7,285.4 L395.5,285.1 L398.0,284.0 L400.3,282.3 L401.9,279.9 L404.0,278.0 L405.5,275.4 L407.0,272.8 L408.0,270.0 L407.6,266.7 L408.3,263.3 L408.0,260.0 L411.2,258.3 L414.0,256.0 L417.0,254.4 L419.1,251.8 L422.0,250.0 L422.9,247.4 L423.3,244.7 L424.0,242.0 L422.4,238.7 L420.0,236.0 L418.2,233.5 L415.6,231.7 L414.0,229.0"/>
<path d="M352.0,290.0 L350.8,293.2 L350.6,296.7 L350.0,300.0 L350.3,303.3 L350.7,306.7 L351.0,310.0 L349.6,312.8 L348.1,315.6 L346.0,318.0 L345.4,321.4 L344.7,324.7 L344.0,328.0 L341.7,330.8 L340.0,334.0 L337.3,334.2 L334.7,333.5 L332.0,334.0 L331.0,336.9 L329.2,339.3 L328.0,342.0 L328.2,345.4 L327.6,348.7 L327.0,352.0 L329.0,353.7 L329.9,356.3 L332.0,358.0 L329.8,360.5 L328.0,363.3 L326.0,366.0 L324.6,368.4 L323.5,370.8 L323.1,373.6 L322.0,376.0 L319.1,377.7 L316.8,380.2 L314.0,382.0 L313.1,385.3 L312.3,388.6 L312.0,392.0 L312.5,394.8 L312.6,397.6 L312.9,400.4 L314.0,403.1 L314.0,406.0"/>
<path d="M376.0,288.0 L378.4,290.7 L380.0,294.0 L381.6,296.4 L384.2,297.8 L386.0,300.0 L386.1,302.8 L386.9,305.5 L388.0,308.0 L386.2,311.1 L384.0,314.0 L381.0,316.0 L378.0,318.0 L377.4,320.7 L376.8,323.4 L376.0,326.0 L377.0,328.8 L378.3,331.5 L380.0,334.0 L379.6,336.7 L378.6,339.3 L378.0,342.0 L379.8,344.8 L381.9,347.4 L384.0,350.0 L381.0,350.4 L378.0,350.0 L376.1,352.1 L374.0,354.0 L372.0,356.0 L369.1,354.6 L366.0,354.0 L363.7,355.7 L361.9,357.9 L360.0,360.0 L357.4,360.9 L354.5,360.9 L352.0,362.0 L350.2,364.8 L348.1,367.4 L346.0,370.0 L343.1,371.4 L340.0,372.0 L337.3,373.2 L334.5,374.4 L332.0,376.0 L330.7,373.4 L329.3,370.8 L327.7,368.4 L326.0,366.0"/>
<path d="M249.0,442.0 L249.1,438.9 L249.9,436.0 L250.9,433.1 L251.0,430.0 L251.1,426.8 L251.1,423.6 L251.8,420.4 L251.6,417.2 L252.0,414.0 L253.1,411.0 L253.7,407.9 L255.3,405.1 L256.0,402.0 L256.2,398.6 L257.1,395.3 L258.0,392.0 L259.4,389.1 L259.6,385.9 L260.9,383.0 L262.0,380.0 L266.0,378.0 L268.8,375.7 L272.0,374.0 L275.0,373.9 L278.0,374.0 L281.0,372.6 L284.0,371.0 L285.6,373.8 L288.0,376.0 L288.2,378.8 L289.5,381.3 L290.0,384.0 L290.4,387.4 L291.4,390.7 L292.0,394.0 L294.9,394.9 L297.4,396.4 L300.0,398.0 L302.7,398.5 L305.4,399.2 L308.0,400.0 L309.6,402.4 L311.8,404.2 L314.0,406.0 L315.7,403.7 L318.1,402.1 L320.0,400.0 L321.8,397.2 L323.8,394.5 L326.0,392.0 L325.7,389.2 L324.2,386.8 L324.0,384.0 L326.2,382.2 L328.3,380.3 L330.0,378.0 L332.0,376.0"/>
<path d="M288.0,474.5 L291.2,473.4 L294.5,472.9 L297.2,472.3 L300.0,471.8 L302.7,471.0 L305.0,468.8 L307.6,467.0 L310.0,466.1 L312.5,466.0 L313.5,469.6 L315.0,472.9 L316.9,474.6 L319.0,476.0 L321.4,474.9 L324.0,474.5 L325.3,472.1 L326.4,469.6 L327.5,472.9 L328.9,476.0 L332.1,476.2 L335.4,476.0 L338.0,475.6 L340.3,474.5 L341.1,476.8 L342.7,478.6 L341.7,481.0 L340.6,483.4 L340.3,486.0 L339.8,488.7 L339.5,491.4 L338.7,494.0 L336.0,495.3 L333.8,497.4 L330.5,497.4 L331.5,500.6 L332.0,504.0 L330.8,507.4 L328.9,510.5 L329.0,513.3 L328.3,516.0 L328.0,518.7 L327.3,521.9 L327.6,525.2 L327.2,528.5"/>
<path d="M340.0,388.0 L342.7,389.3 L345.3,390.7 L348.0,392.0 L350.3,394.5 L351.8,397.5 L354.0,400.0 L356.6,399.0 L359.4,398.9 L362.0,398.0 L364.1,399.9 L365.9,402.1 L368.0,404.0 L370.7,403.6 L373.2,402.2 L376.0,402.0 L377.7,404.3 L380.3,405.7 L382.0,408.0 L384.8,407.8 L387.2,406.2 L390.0,406.0 L391.7,408.3 L393.9,410.1 L396.0,412.0 L399.0,411.1 L402.0,410.0 L403.9,412.1 L405.6,414.4 L408.0,416.0 L410.4,417.3 L412.4,419.1 L415.0,420.0"/>
<path d="M384.0,350.0 L385.9,352.8 L388.2,355.2 L390.0,358.0 L392.7,357.5 L395.3,356.7 L398.0,356.0 L400.7,357.9 L403.7,359.6 L406.0,362.0 L408.6,361.2 L411.4,360.8 L414.0,360.0 L416.8,361.0 L419.4,362.5 L422.0,364.0 L424.6,363.0 L427.4,362.9 L430.0,362.0 L432.5,359.9 L434.9,357.6 L437.0,355.0"/>
<path d="M437.0,344.0 L437.3,346.8 L436.5,349.5 L437.2,352.2 L437.0,355.0 L438.0,358.3 L439.9,361.2 L441.0,364.4 L440.4,367.0 L439.3,369.4 L439.0,372.0 L439.6,375.6 L441.0,379.0 L439.6,381.9 L439.1,385.0 L438.0,388.0 L439.6,390.3 L440.4,393.0 L442.2,395.3 L443.0,398.0"/>
<path d="M388.0,308.0 L390.6,306.9 L393.2,306.1 L396.0,306.0 L398.8,307.0 L401.1,309.1 L404.0,310.0 L406.5,308.4 L409.4,307.6 L412.0,306.0 L414.5,307.6 L417.3,308.7 L420.0,310.0 L422.5,308.4 L425.5,307.6 L428.0,306.0 L430.4,307.8 L433.4,308.6 L436.0,310.0 L437.3,312.7 L439.0,315.1 L440.0,318.0 L439.1,321.0 L438.4,324.0 L438.3,327.1 L437.0,330.0 L436.7,332.8 L436.9,335.6 L437.5,338.4 L437.5,341.2 L437.0,344.0"/>
<path d="M408.0,270.0 L410.7,270.7 L413.4,271.0 L416.0,272.0 L418.5,270.4 L421.2,269.1 L424.0,268.0 L426.6,269.4 L429.2,271.0 L432.0,272.0 L434.7,271.4 L437.4,271.0 L440.0,270.0 L442.1,271.9 L444.1,273.9 L446.0,276.0 L445.1,279.3 L444.3,282.6 L444.0,286.0 L445.7,288.5 L446.9,291.2 L448.0,294.0 L446.3,297.2 L444.0,300.0 L443.6,303.1 L442.5,306.0 L442.4,309.1 L441.1,312.0 L440.3,314.9 L440.0,318.0"/>
<path d="M424.0,242.0 L426.5,243.6 L429.5,244.4 L432.0,246.0 L434.4,248.4 L436.1,251.3 L438.0,254.0 L440.5,255.2 L443.4,255.0 L446.0,256.0 L448.0,258.0 L450.0,260.0 L452.0,262.0 L452.3,264.7 L452.2,267.3 L452.0,270.0 L450.1,272.1 L447.8,273.8 L446.0,276.0"/>
<path d="M415.0,168.0 L416.1,170.6 L417.3,173.1 L419.2,175.3 L420.0,178.0 L419.9,181.1 L418.5,183.9 L418.8,187.1 L418.0,190.0 L419.8,192.8 L422.1,195.3 L424.0,198.0 L422.5,200.3 L421.8,202.9 L421.2,205.6 L420.0,208.0 L421.4,210.4 L422.2,212.9 L422.6,215.6 L424.0,218.0 L422.5,220.3 L421.7,222.9 L421.3,225.6 L420.0,228.0 L421.1,230.8 L422.9,233.2 L424.0,236.0"/>
<path d="M438.0,254.0 L438.7,250.7 L439.8,247.4 L440.0,244.0 L441.9,241.9 L444.3,240.3 L446.0,238.0 L445.0,234.7 L444.3,231.4 L444.0,228.0 L445.9,225.9 L447.6,223.6 L450.0,222.0 L452.7,223.3 L455.4,224.6 L458.0,226.0"/>
<path d="M604.0,204.0 L603.3,206.6 L602.4,209.2 L601.5,211.7 L600.0,214.0 L599.2,217.3 L599.0,220.7 L598.0,224.0 L599.0,227.3 L599.3,230.7 L600.0,234.0 L598.0,236.0 L595.9,237.9 L594.0,240.0 L592.2,242.2 L590.3,244.3 L588.2,246.2 L586.0,248.0 L584.4,250.4 L582.2,252.2 L580.2,254.2 L578.2,256.2 L576.0,258.0 L574.1,261.1 L572.0,264.0 L570.2,266.3 L569.0,269.0 L567.4,271.5 L566.0,274.0 L564.8,276.7 L563.2,279.1 L561.6,281.6 L560.0,284.0 L557.6,285.6 L556.0,288.0"/>
<path d="M556.0,288.0 L559.3,287.2 L562.6,286.6 L566.0,286.0 L568.4,287.6 L569.9,290.1 L572.0,292.0 L573.8,294.4 L575.0,297.2 L576.0,300.0 L578.7,299.7 L581.3,300.2 L584.0,300.0 L585.7,302.5 L587.1,305.1 L588.0,308.0 L590.0,312.0"/>
<path d="M556.0,288.0 L554.4,290.4 L551.7,291.7 L550.0,294.0 L547.7,296.4 L544.8,298.2 L542.0,300.0 L539.1,301.7 L536.5,303.7 L534.0,306.0 L531.1,307.3 L528.0,308.0"/>
<path d="M486.0,354.0 L486.9,356.6 L487.6,359.3 L488.8,361.8 L489.6,364.4 L489.9,367.7 L489.5,370.9 L489.4,374.2 L489.6,377.5 L487.9,380.3 L486.0,383.0 L486.9,385.9 L487.5,389.0 L488.0,392.0 L486.9,394.8 L485.3,397.3 L484.0,400.0 L484.3,403.4 L484.9,406.8 L486.0,410.0 L484.6,413.2 L484.5,416.8 L483.0,420.0 L483.0,423.5 L483.0,427.0"/>
<path d="M486.0,354.0 L489.0,354.2 L492.0,354.0"/>
<path d="M500.0,310.5 L502.2,312.1 L503.7,314.5 L506.0,316.0 L508.5,316.3 L511.0,316.0"/>
<path d="M443.0,398.0 L444.6,396.0 L446.4,394.1 L448.0,392.0 L450.7,392.6 L453.4,393.1 L456.0,394.0 L457.9,391.9 L459.7,389.7 L462.0,388.0 L464.7,388.7 L467.3,389.6 L470.0,390.0 L471.9,387.9 L474.1,386.1 L476.0,384.0 L479.3,383.7 L482.7,383.3 L486.0,383.0"/>
</g>
<g stroke="#9b9bc6" stroke-width="1.55">
<path d="M458.0,260.8 L461.0,262.4 L464.2,263.3 L464.3,266.4 L465.4,269.4 L467.1,272.5 L469.0,275.5 L471.1,277.2 L472.8,279.2"/>
<path d="M458.0,260.8 L456.7,263.2 L455.5,265.7 L454.4,268.2 L453.5,271.4 L452.0,274.3 L452.9,277.5 L454.4,280.4 L457.5,281.5 L460.5,282.9 L463.0,284.0 L465.4,285.3"/>
<path d="M452.0,274.3 L451.0,276.9 L450.3,279.6 L449.0,282.0 L448.2,285.5 L447.0,289.0 L445.5,291.4 L444.6,294.0 L445.2,296.5 L446.5,298.8 L447.0,301.3 L444.9,303.5 L443.4,306.2"/>
<path d="M560.0,211.8 L558.1,213.9 L555.8,215.4 L554.7,217.9 L553.6,220.5 L552.0,222.8 L551.0,225.3 L549.7,227.7 L547.5,230.5 L546.0,233.8 L545.2,236.5 L543.5,238.7 L541.4,241.0 L539.8,243.6 L539.0,246.0 L538.6,248.5"/>
<path d="M490.0,211.8 L491.1,214.2 L492.1,216.6 L493.3,219.0 L490.6,221.3 L488.4,224.0 L487.5,226.4 L487.2,229.0 L484.9,230.5 L482.3,231.4 L480.0,232.9 L477.4,233.8 L475.4,235.5 L473.7,237.5 L470.0,238.0"/>
<path d="M497.5,186.0 L497.7,188.8 L496.7,191.6 L497.1,194.4 L496.5,197.2 L496.5,200.0 L496.7,202.8 L496.2,205.5 L496.3,208.2 L496.5,211.0 L495.3,213.6 L492.8,215.5 L491.3,217.9 L490.0,220.5 L489.4,223.0 L488.6,225.5 L488.0,228.0 L488.8,230.8 L489.7,233.6 L490.6,236.4 L492.0,239.0 L493.6,241.8 L495.6,244.3 L498.2,246.3 L500.0,249.0 L501.8,251.1 L502.9,253.5 L504.0,256.0 L506.1,257.6 L507.5,259.8 L509.5,261.4 L510.7,264.6 L512.0,267.8 L514.0,270.7 L512.8,273.7 L512.0,276.8 L511.4,280.0 L512.1,282.7 L513.6,285.1 L515.0,287.5 L514.5,290.6 L513.3,293.6 L513.0,296.8 L513.1,300.4 L514.0,304.0 L516.6,305.8 L519.0,308.0"/>
<path d="M500.0,249.0 L503.1,248.0 L506.0,246.5 L508.7,245.6 L511.4,244.7"/>
<path d="M539.0,243.0 L541.0,240.3 L543.1,237.7 L545.0,235.0 L546.4,232.4 L546.8,229.5 L547.4,226.7 L548.6,224.0 L549.5,221.3 L551.2,219.0 L552.0,216.3 L553.3,213.8 L554.0,211.0 L556.9,209.1 L560.0,207.4 L560.9,205.0 L561.8,202.6 L562.0,200.0 L561.9,196.6 L563.0,193.4 L563.0,190.0"/>
<path d="M488.0,228.0 L485.5,230.2 L482.9,232.4 L480.5,234.8 L478.0,237.0 L474.8,235.6 L472.0,233.5 L470.3,235.8 L468.7,238.1 L466.4,239.9 L464.8,242.3 L462.5,244.0 L461.0,246.5 L459.7,249.6 L458.4,252.7 L457.4,256.0 L459.4,258.2 L461.1,260.7 L463.0,263.0 L464.0,266.0 L465.9,268.6 L466.8,271.7 L468.6,274.4 L466.4,275.9 L465.0,278.3 L463.0,280.0 L460.6,279.1 L458.0,279.0 L455.6,278.0 L453.4,279.7 L452.0,282.0"/>
<path d="M514.0,270.7 L516.0,272.7 L518.0,274.7 L520.7,275.9 L522.6,278.0 L521.7,281.3 L520.6,284.5 L519.0,287.5 L520.3,289.9 L521.6,292.2 L522.9,294.6 L524.4,296.8 L522.8,299.1 L521.6,301.7 L520.0,304.0"/>
<path d="M545.0,235.0 L546.7,237.1 L548.6,239.0 L550.5,241.0 L551.4,243.6 L552.9,245.9 L554.0,248.4 L552.0,251.0 L550.5,254.0 L548.5,256.3 L546.0,258.0"/>
<path d="M550.0,190.0 L550.1,193.2 L549.8,196.3 L549.4,199.5 L548.6,202.5 L548.9,205.7 L548.5,208.9 L548.0,212.0 L547.2,214.7 L547.6,217.7 L546.7,220.4 L546.1,223.2 L546.0,226.0 L546.9,229.3 L547.8,232.6 L548.0,236.0 L549.9,238.3 L550.7,241.2 L552.6,243.5 L554.0,246.0 L556.7,246.6 L559.2,247.5 L561.3,249.4 L564.0,250.0 L566.5,251.6 L569.1,253.1 L572.0,254.0 L573.9,256.1 L576.0,258.0"/>
<path d="M562.0,200.0 L562.8,203.0 L562.6,206.0 L562.9,209.0 L563.0,212.0 L562.1,215.4 L560.5,218.5 L560.0,222.0 L557.6,223.6 L555.2,225.3 L552.6,226.7 L550.0,228.0 L546.0,226.0"/>
<path d="M445.0,320.0 L448.6,320.3 L452.0,321.6 L454.8,319.5 L458.0,318.0 L460.4,316.8 L462.8,315.5 L465.0,314.0 L467.6,314.8 L470.4,315.1 L473.0,316.0 L475.6,315.1 L477.4,312.9 L480.0,312.0 L482.2,310.4 L484.2,308.7 L486.0,306.7 L489.5,306.1 L493.0,305.0 L495.0,307.2 L497.6,308.7 L500.0,310.5"/>
<path d="M452.0,321.6 L452.8,324.0 L453.2,326.6 L454.0,329.0 L456.6,329.4 L459.1,330.2 L461.6,331.0 L464.2,333.0 L467.0,334.7 L469.5,333.4 L472.2,332.3 L474.7,331.0 L477.2,328.8 L480.0,327.0 L484.0,329.0 L486.9,327.3 L490.0,326.0"/>
<path d="M448.6,338.4 L450.7,340.6 L451.8,343.6 L454.0,345.8 L453.5,349.4 L454.0,353.0 L456.7,353.9 L458.8,356.1 L461.6,357.0 L464.3,356.0 L467.0,355.0 L469.5,354.1 L472.2,354.0 L474.7,353.0 L477.2,354.4 L480.0,355.0 L482.9,354.0 L486.0,354.0"/>
<path d="M461.6,357.0 L461.9,359.6 L462.5,362.0 L463.5,364.4 L461.7,367.2 L460.0,370.0 L461.5,373.0 L463.5,375.6 L465.9,376.7 L468.5,377.0 L471.0,377.5 L473.4,375.2 L476.5,373.7 L477.3,370.8 L478.4,368.0 L474.7,368.2 L471.0,368.0 L470.6,365.3 L469.7,362.7 L468.6,360.2 L467.8,357.6 L467.0,355.0"/>
<path d="M468.6,274.4 L471.5,272.5 L474.0,270.0 L476.8,271.5 L480.0,272.0 L482.4,269.3 L484.0,266.0"/>
<path d="M452.0,282.0 L450.9,285.2 L450.3,288.6 L450.0,292.0 L451.3,294.7 L452.9,297.2 L454.0,300.0 L452.9,302.8 L451.0,305.2 L450.0,308.0 L450.0,310.8 L450.6,313.5 L450.9,316.2 L451.3,318.9 L452.0,321.6"/>
<path d="M513.0,296.8 L510.6,297.8 L508.5,299.4 L506.0,300.0 L504.7,302.7 L503.4,305.5 L501.1,307.6 L500.0,310.5"/>
<path d="M525.0,181.0 L524.7,184.0 L525.9,187.0 L525.2,190.0 L525.9,193.0 L526.0,196.0 L524.3,198.9 L522.1,201.4 L520.0,204.0 L520.4,207.4 L520.9,210.7 L522.0,214.0 L520.2,216.8 L518.1,219.4 L516.0,222.0"/>
</g>
<g stroke="#b4b4f0" stroke-width="0.65" stroke-dasharray="2.2,0.9">
<path d="M470.0,200.0 L476.0,210.0 L484.0,214.0 L488.0,228.0"/>
<path d="M505.0,190.0 L508.0,200.0 L516.0,204.0 L520.0,204.0"/>
<path d="M532.0,195.0 L534.0,206.0 L540.0,212.0 L548.0,212.0"/>
<path d="M575.0,190.0 L574.0,204.0 L578.0,214.0 L586.0,218.0"/>
<path d="M560.0,222.0 L566.0,230.0 L566.0,238.0"/>
<path d="M472.0,240.0 L478.0,248.0 L476.0,258.0 L482.0,262.0 L484.0,266.0"/>
<path d="M492.0,239.0 L486.0,246.0 L488.0,254.0 L484.0,266.0"/>
<path d="M463.0,263.0 L456.0,268.0 L452.0,276.0"/>
<path d="M463.0,280.0 L466.0,290.0 L462.0,298.0 L466.0,306.0 L465.0,314.0"/>
<path d="M480.0,312.0 L478.0,304.0 L484.0,298.0"/>
<path d="M496.0,300.0 L502.0,296.0 L504.0,288.0 L511.4,280.0"/>
<path d="M519.0,287.5 L526.0,284.0 L530.0,276.0"/>
<path d="M524.4,296.8 L530.0,292.0 L536.0,282.0"/>
<path d="M522.6,278.0 L530.0,270.0 L536.0,262.0"/>
<path d="M509.5,261.4 L516.0,256.0 L524.0,254.0 L530.0,250.0"/>
<path d="M554.0,248.4 L560.0,244.0 L566.0,238.0"/>
<path d="M445.0,330.0 L450.0,336.0 L448.6,338.4"/>
<path d="M467.0,334.7 L466.0,344.0 L461.6,357.0"/>
<path d="M474.7,353.0 L476.0,344.0 L480.0,338.0 L484.0,329.0"/>
<path d="M454.0,353.0 L452.0,360.0"/>
<path d="M471.0,368.0 L470.0,360.0 L467.0,355.0"/>
<path d="M506.0,246.5 L504.0,236.0 L508.0,228.0 L516.0,222.0"/>
<path d="M540.0,212.0 L538.0,204.0"/>
<path d="M505.5,189.7 L510.4,192.0 L513.0,197.0 L516.6,199.0 L521.5,197.7 L525.8,198.3 L526.4,202.0 L527.6,206.9 L531.3,204.4 L535.0,199.5"/>
<path d="M497.0,200.7 L500.6,198.3 L504.3,193.4 L510.4,192.0"/>
<path d="M497.0,204.4 L501.9,206.3 L506.8,210.5 L510.4,205.6 L516.6,206.9 L521.5,210.5 L526.4,206.9"/>
<path d="M501.9,206.3 L498.2,210.5 L495.7,215.4 L493.3,219.0"/>
<path d="M506.8,210.5 L509.2,215.4 L512.9,219.0 L511.7,225.2 L514.0,229.0"/>
<path d="M477.4,233.8 L479.8,243.6 L481.0,251.0"/>
<path d="M499.4,247.3 L505.5,244.9 L510.4,243.6 L517.0,240.0 L522.0,232.0 L528.0,226.0"/>
<path d="M465.4,252.3 L470.3,257.2 L477.7,256.0 L482.6,253.5 L487.5,254.7 L490.0,259.6 L493.6,264.5"/>
<path d="M477.7,240.0 L479.0,247.4 L482.6,253.5"/>
<path d="M477.7,256.0 L479.0,264.5 L477.7,271.9"/>
<path d="M460.5,249.8 L465.4,252.3"/>
<path d="M448.3,289.0 L452.0,291.5 L450.7,296.4 L454.4,298.8"/>
<path d="M487.5,303.7 L491.1,308.6 L496.0,306.2 L501.0,301.3 L504.6,297.6 L509.5,294.0"/>
<path d="M482.6,311.0 L487.5,313.5 L490.0,318.4"/>
<path d="M504.6,285.3 L509.5,281.7 L514.4,280.4"/>
<path d="M516.9,251.0 L521.8,256.0 L526.0,254.7"/>
<path d="M472.8,279.2 L478.0,286.0 L476.0,294.0 L482.0,300.0 L480.0,307.0"/>
<path d="M487.5,270.6 L492.0,276.0 L498.0,274.0 L502.0,281.7"/>
<path d="M520.0,222.0 L526.0,228.0 L532.0,226.0 L538.0,232.0 L539.8,243.6"/>
</g>
</g>
<path d="M102.0,176.0 L103.5,174.0 L105.0,172.0 L107.5,171.0 L109.0,169.0 L108.0,166.6 L108.6,164.0 L110.3,162.3 L111.6,160.3 L112.8,158.2 L115.0,157.0 L116.8,155.9 L118.0,154.0 L120.2,153.4 L122.0,152.4 L119.8,152.7 L117.8,152.2 L116.0,151.0 L114.2,149.8 L113.1,147.8 L111.0,147.0 L109.0,146.0 L107.6,144.4 L106.7,142.3 L105.0,141.0 L105.4,138.6 L104.3,136.6 L103.6,134.4 L104.3,132.0 L103.0,130.0 L104.5,127.9 L107.4,127.9 L109.0,126.0 L111.2,124.9 L113.5,124.0 L116.0,124.0 L116.7,121.2 L118.6,119.0 L117.7,117.1 L117.4,115.0 L119.6,114.5 L120.9,112.5 L123.2,112.1 L125.0,111.0 L127.0,111.3 L129.0,110.8 L131.0,111.0 L132.7,112.1 L134.9,112.3 L136.7,113.3 L138.0,115.0 L140.6,114.7 L143.0,115.8 L145.5,115.6 L148.0,116.0 L150.1,116.0 L152.0,116.8 L154.0,117.0 L154.6,119.3 L155.3,121.6 L155.4,124.0 L155.7,126.5 L156.8,128.8 L158.0,131.0 L159.9,132.4 L160.9,134.6 L162.5,136.3 L164.0,138.0 L164.3,140.5 L165.6,142.7 L167.4,144.6 L168.0,147.0 L167.9,149.5 L170.3,151.2 L170.5,153.5 L170.7,156.0 L172.0,158.0 L173.9,159.6 L174.7,162.0 L176.0,164.0 L178.2,164.2 L179.3,166.3 L181.0,167.4 L183.0,168.0 L185.0,168.9 L186.7,170.2 L189.1,169.9 L191.0,171.0 L192.0,173.2 L193.5,175.1 L195.0,177.0 L196.9,177.9 L199.0,178.4 L200.8,179.9 L203.0,180.0 L205.1,181.3 L207.5,181.0 L209.7,181.8 L212.0,182.0 L214.4,182.5 L215.8,184.8 L217.9,186.0 L220.0,187.0 L221.5,185.0 L221.8,182.8 L221.4,180.3 L222.2,178.1 L223.0,176.0 L224.6,174.2 L224.9,171.5 L227.0,170.0 L229.0,171.6 L231.4,172.8 L233.0,175.0 L234.7,176.9 L235.8,179.1 L235.5,181.8 L237.6,183.5 L238.0,186.0 L239.7,187.4 L240.8,189.2 L242.0,191.0 L243.9,189.8 L244.0,187.2 L246.0,186.0 L248.0,186.2 L250.0,186.8 L252.0,187.0 L253.2,189.2 L254.9,190.8 L257.0,192.0 L258.2,194.2 L260.6,195.0 L262.0,197.0 L262.9,194.6 L263.8,192.2 L265.0,190.0 L267.1,191.4 L269.4,192.2 L272.0,192.0 L274.1,191.6 L276.1,191.9 L278.1,192.2 L280.0,193.0 L281.8,191.5 L284.0,191.0 L286.1,190.2 L288.0,189.0 L288.8,186.5 L289.6,183.9 L291.6,182.0 L290.8,180.0 L290.1,178.1 L289.8,176.0 L289.0,174.0 L290.2,171.8 L290.0,169.4 L290.0,167.0 L289.0,165.3 L288.2,163.6 L287.0,162.0 L288.8,161.3 L289.9,159.3 L292.0,159.0 L294.0,160.7 L296.5,161.5 L299.0,162.0 L301.4,163.2 L304.0,163.0 L305.5,164.5 L307.6,164.8 L309.3,165.8 L311.0,167.0 L312.1,164.5 L314.5,163.2 L316.0,161.0 L314.2,159.0 L313.2,156.7 L313.0,154.0 L314.1,151.9 L315.5,150.1 L317.3,148.6 L319.0,147.0 L319.7,144.8 L320.9,143.1 L323.0,142.0 L324.6,143.7 L325.7,145.7 L326.0,148.0 L325.2,150.1 L324.8,152.4 L322.4,153.7 L322.0,156.0 L320.3,157.9 L319.0,160.0 L320.6,161.7 L321.4,163.8 L322.0,166.0 L323.9,165.0 L325.9,164.3 L327.7,163.1 L330.0,163.0 L332.4,161.8 L334.6,160.4 L336.0,158.0 L338.0,157.3 L340.0,156.6 L342.0,156.0 L343.6,154.1 L345.6,152.9 L347.8,152.0 L350.0,151.0 L351.1,148.7 L353.0,147.0 L352.3,144.9 L350.0,143.9 L348.5,142.3 L348.0,140.0 L347.5,137.3 L345.5,135.5 L343.7,133.6 L343.0,131.0 L341.6,129.0 L339.3,127.5 L338.5,125.0 L337.0,123.0 L339.4,123.7 L341.6,123.2 L343.8,122.6 L346.0,122.0 L347.8,120.6 L349.9,119.8 L351.7,118.4 L354.0,118.0 L355.9,117.0 L357.2,115.2 L359.1,114.2 L360.2,112.2 L362.0,111.0 L363.8,109.5 L366.3,109.5 L368.4,108.8 L370.0,107.0 L372.7,106.6 L375.0,105.0 L376.2,107.4 L377.9,109.4 L380.0,111.0 L381.8,112.4 L384.2,112.5 L386.0,114.0 L386.6,116.4 L387.5,118.7 L388.7,121.0 L389.3,123.4 L389.0,126.0 L389.4,128.5 L389.0,131.0 L391.1,130.9 L392.9,132.0 L395.0,132.0 L397.5,132.5 L399.7,131.2 L402.0,131.0 L403.1,133.0 L404.8,134.4 L407.0,135.0 L408.8,136.3 L411.1,135.8 L413.1,136.0 L415.0,137.0 L417.1,136.7 L419.1,136.9 L421.1,137.2 L423.0,138.0 L425.2,138.5 L427.4,139.3 L429.7,139.4 L432.0,139.0 L434.0,140.3 L435.8,141.9 L438.0,143.0 L438.1,145.5 L440.1,147.4 L440.0,150.0 L441.5,151.9 L442.8,153.9 L445.0,155.0 L447.3,156.5 L450.0,157.0 L447.7,158.1 L446.0,160.0 L446.3,162.0 L447.1,163.9 L446.2,166.1 L447.0,168.0 L448.3,170.4 L449.0,173.0 L446.7,174.0 L445.0,176.0 L444.6,178.7 L446.0,181.0 L447.9,182.1 L449.6,183.3 L450.8,185.4 L453.0,186.0 L454.9,187.1 L457.2,186.9 L459.2,187.6 L461.0,189.0 L463.2,188.9 L464.8,190.7 L466.9,191.1 L469.0,191.0 L471.1,190.6 L472.9,192.1 L474.9,192.7 L477.0,192.0 L479.7,192.3 L482.3,191.7 L485.0,192.0 L487.1,190.7 L488.6,188.7 L491.0,188.0 L492.6,186.2 L495.4,186.8 L497.0,185.0 L497.6,182.7 L497.7,180.3 L498.0,178.0 L500.3,179.3 L503.0,179.0 L503.8,181.3 L503.7,183.9 L505.0,186.0 L506.8,187.1 L509.0,187.0 L510.8,185.5 L512.8,184.6 L514.8,183.6 L517.0,183.0 L518.9,182.0 L521.0,182.2 L522.9,181.1 L525.0,181.0 L527.4,181.2 L529.8,181.0 L532.0,182.0 L533.5,184.1 L536.0,185.0 L536.0,188.0 L538.1,188.4 L540.0,189.3 L542.0,190.0 L544.7,190.2 L547.3,190.8 L550.0,190.0 L552.0,189.3 L554.2,189.6 L556.0,188.2 L558.0,187.7 L560.0,187.0 L562.7,187.0 L565.3,186.1 L568.0,187.0 L570.2,186.6 L572.4,185.9 L574.6,185.3 L577.0,186.0 L577.9,188.3 L580.2,189.7 L581.0,192.0 L582.0,194.3 L582.6,196.8 L584.0,199.0 L586.5,200.1 L589.0,201.0 L590.8,198.8 L593.0,197.0 L595.5,197.5 L598.0,198.0 L598.6,200.0 L598.8,202.2 L600.0,204.0 L602.4,202.8 L605.0,203.0 L606.6,204.1 L608.6,204.6 L610.0,206.0 L611.9,207.0 L613.0,209.1 L615.0,210.0 L616.7,211.7 L618.3,213.4 L620.0,215.0 L621.9,216.0 L624.0,216.0 L626.4,215.7 L628.0,213.9 L630.1,213.2 L632.0,212.0 L634.0,211.8 L636.0,211.5 L638.0,211.6 L640.0,211.0 L642.2,210.7 L644.5,210.6 L646.7,210.2 L649.0,210.0 L649.2,212.8 L651.0,215.0 L648.8,216.0 L646.6,217.1 L645.0,219.0 L642.7,220.2 L641.8,222.8 L639.7,224.2 L638.0,226.0 L639.5,228.3 L641.6,229.8 L644.0,231.0 L646.1,231.9 L647.7,233.3 L648.9,235.1 L650.9,236.0 L652.0,238.0 L652.0,240.6 L651.0,243.0 L649.0,244.5 L646.4,244.2 L644.1,244.7 L642.0,246.0 L639.8,246.9 L638.9,249.5 L636.5,250.2 L635.0,252.0 L634.4,253.9 L635.0,256.1 L634.0,258.0 L631.8,259.5 L630.0,261.4 L629.0,264.0 L628.7,266.2 L626.6,267.7 L626.8,270.1 L625.8,272.0 L625.0,274.0 L623.7,275.8 L623.7,277.9 L624.0,280.0 L622.8,282.4 L620.8,284.1 L619.0,286.0 L617.0,285.0 L614.9,284.3 L613.0,283.0 L611.2,284.2 L609.1,284.7 L607.0,285.0 L604.6,284.9 L602.5,286.6 L600.0,286.0 L598.9,288.0 L598.0,290.0 L599.1,291.9 L600.8,293.6 L601.0,296.0 L599.9,298.2 L598.0,299.9 L596.8,302.0 L596.1,304.5 L594.0,306.0 L591.8,306.8 L590.6,308.6 L588.9,309.9 L588.0,312.0 L587.7,314.3 L586.4,316.2 L585.8,318.4 L584.0,320.0 L581.7,320.7 L580.2,322.8 L578.4,324.2 L576.1,324.9 L574.0,326.0 L571.4,325.5 L568.9,325.9 L566.5,327.2 L564.0,327.0 L562.4,325.6 L562.7,323.1 L561.1,321.7 L560.0,320.0 L558.2,318.3 L555.6,318.0 L554.0,316.0 L551.9,316.6 L550.0,315.1 L548.0,315.4 L546.0,315.0 L544.0,316.7 L541.0,316.2 L539.0,318.0 L537.5,316.5 L536.0,314.9 L534.0,314.0 L531.9,313.1 L531.5,310.5 L528.9,310.1 L528.0,308.0 L525.8,307.0 L523.3,307.4 L521.0,307.0 L519.5,308.3 L517.6,308.9 L516.0,310.0 L513.7,311.5 L513.0,314.3 L511.0,316.0 L510.3,318.4 L508.3,320.0 L507.0,322.0 L509.3,323.3 L511.5,324.8 L513.0,327.0 L513.4,329.1 L513.3,331.1 L512.8,333.1 L512.0,335.0 L510.2,336.9 L508.2,338.6 L506.0,340.0 L503.7,340.9 L502.2,343.0 L500.0,344.0 L498.0,345.7 L496.4,347.8 L494.0,349.0 L493.3,351.6 L492.0,354.0 L494.1,354.9 L495.3,356.7 L497.2,357.8 L498.0,360.0 L499.3,362.3 L501.3,364.1 L503.0,366.0 L505.2,365.2 L507.5,365.5 L509.8,366.1 L512.0,365.0 L513.2,366.8 L512.4,369.1 L513.6,371.0 L514.0,373.0 L514.5,375.0 L514.4,377.2 L515.7,379.0 L516.0,381.0 L518.5,382.0 L521.0,383.0 L523.2,381.8 L525.0,380.0 L526.9,382.0 L529.8,382.1 L532.0,383.5 L534.0,384.6 L536.2,384.9 L538.5,385.0 L539.1,387.1 L540.3,388.9 L541.0,391.0 L541.7,392.9 L542.6,394.8 L542.8,396.9 L542.5,399.0 L544.1,400.9 L543.7,403.6 L545.0,405.6 L543.1,404.8 L541.3,403.7 L540.0,402.0 L537.9,401.4 L537.1,399.0 L535.6,397.7 L533.5,397.0 L531.5,395.5 L529.0,394.9 L526.9,393.7 L525.0,392.0 L524.0,393.9 L522.4,395.4 L521.0,397.0 L519.0,398.4 L516.5,398.6 L514.4,399.7 L512.0,400.0 L510.0,401.1 L508.6,402.8 L508.0,405.0 L508.4,407.8 L509.0,410.5 L510.9,411.8 L511.3,414.4 L513.8,415.1 L515.0,417.0 L517.0,417.8 L519.1,418.2 L520.5,420.0 L521.0,422.0 L521.0,424.0 L523.5,424.0 L526.1,424.0 L528.6,424.0 L531.0,423.1 L533.5,423.3 L536.0,423.0 L538.0,423.9 L539.0,425.8 L540.0,427.6 L541.7,429.8 L542.2,432.5 L543.0,435.0 L543.7,437.1 L543.6,439.1 L542.5,441.0 L540.8,442.0 L539.0,442.8 L537.0,443.0 L534.9,443.3 L532.8,443.9 L530.6,444.0 L528.6,445.0 L526.6,444.9 L524.5,444.9 L522.5,444.7 L520.5,445.6 L518.1,446.4 L515.6,447.1 L512.9,446.5 L510.6,448.0 L508.1,447.6 L506.4,445.6 L504.0,445.0 L501.7,444.1 L499.1,444.5 L497.0,443.0 L494.9,443.4 L493.5,445.0 L493.0,442.6 L491.4,440.9 L490.0,439.0 L490.2,437.0 L490.2,434.9 L489.4,433.0 L487.2,432.0 L486.0,430.0 L484.5,428.5 L483.0,427.0 L480.7,427.5 L478.2,427.4 L476.0,428.5 L473.6,429.7 L471.6,431.3 L469.9,433.3 L468.0,435.0 L465.7,435.3 L463.8,436.7 L461.8,437.7 L460.0,439.0 L458.0,438.4 L456.1,437.8 L454.4,436.6 L453.0,435.0 L450.8,433.5 L448.5,432.2 L447.0,430.0 L448.1,427.6 L448.1,425.0 L448.7,422.5 L449.0,420.0 L448.2,417.9 L447.0,416.0 L448.6,414.2 L449.6,412.0 L451.0,410.0 L449.6,408.0 L450.6,405.4 L450.0,403.1 L449.0,401.0 L447.0,400.0 L445.0,398.9 L443.0,398.0 L440.5,397.7 L438.0,398.8 L435.5,397.6 L433.0,398.0 L430.5,398.7 L428.1,399.3 L425.5,399.2 L423.0,399.0 L421.6,400.5 L421.5,402.8 L419.6,404.0 L419.0,406.0 L418.9,408.3 L420.5,410.0 L421.5,411.9 L422.0,414.0 L420.3,415.5 L418.3,416.7 L416.4,418.1 L415.0,420.0 L413.3,421.3 L411.8,422.8 L411.1,425.1 L409.0,426.0 L409.0,428.5 L408.1,430.8 L407.0,433.0 L405.1,434.4 L404.3,436.7 L402.4,438.2 L401.0,440.0 L400.2,442.2 L398.6,443.6 L396.8,444.8 L395.0,446.0 L393.5,447.8 L392.3,449.8 L391.1,451.8 L390.5,454.2 L389.0,456.0 L386.7,457.2 L384.5,458.6 L382.3,459.8 L380.0,461.0 L378.8,463.2 L376.1,463.8 L375.0,466.0 L375.4,468.4 L373.7,470.7 L373.6,473.1 L375.1,475.7 L374.0,478.0 L374.6,480.5 L374.4,483.1 L374.6,485.7 L376.0,488.0 L376.9,490.0 L378.0,491.8 L378.9,493.8 L378.4,496.3 L380.0,498.0 L380.8,500.4 L380.3,503.0 L381.4,505.4 L381.0,508.0 L379.7,509.7 L377.8,511.0 L377.8,513.7 L376.0,515.0 L373.9,515.5 L372.5,517.0 L370.4,517.4 L369.0,519.0 L367.1,519.7 L365.9,521.4 L364.0,522.0 L363.0,520.0 L361.0,519.0 L358.9,518.1 L358.0,516.0 L356.4,517.8 L354.0,518.0 L352.0,519.0 L350.0,520.3 L348.2,521.8 L346.4,523.3 L344.0,524.0 L342.4,525.3 L340.7,526.3 L338.4,526.4 L337.0,528.0 L334.8,529.3 L332.3,528.2 L330.0,529.0 L327.5,529.0 L325.5,531.0 L323.0,531.0 L322.7,528.9 L321.3,527.5 L320.0,526.0 L318.4,524.0 L315.8,523.7 L314.0,522.0 L312.8,520.1 L311.8,518.1 L311.0,516.0 L311.1,513.7 L309.7,511.9 L308.5,510.1 L308.0,508.0 L307.1,506.1 L306.0,504.2 L304.8,502.3 L304.1,500.3 L304.0,498.0 L303.2,495.9 L301.0,494.9 L300.0,493.0 L299.2,490.5 L296.6,489.3 L295.1,487.3 L294.0,485.0 L292.5,483.5 L290.6,482.4 L289.3,480.7 L288.0,479.0 L287.8,476.3 L286.7,474.0 L285.0,472.0 L284.7,469.8 L283.6,467.9 L283.2,465.7 L282.4,463.7 L280.9,462.0 L280.0,460.0 L279.2,457.8 L276.9,456.4 L276.8,453.8 L275.1,452.0 L274.0,450.0 L273.0,448.0 L271.5,446.5 L269.7,445.3 L268.0,443.9 L268.0,441.2 L266.0,440.0 L265.3,438.0 L266.0,436.0 L263.5,436.6 L261.1,437.3 L258.6,437.9 L256.0,438.0 L254.0,438.6 L252.1,439.2 L251.0,441.4 L249.0,442.0 L248.3,440.2 L246.7,438.9 L246.0,437.0 L244.8,435.3 L243.2,433.8 L242.0,432.0 L239.7,431.6 L238.0,430.0 L236.2,428.6 L235.0,426.8 L234.9,424.3 L233.0,423.0 L234.4,421.4 L235.4,419.4 L237.8,418.7 L239.3,417.2 L240.0,415.0 L238.5,413.5 L236.7,412.3 L235.4,410.6 L233.8,409.1 L233.0,407.0 L231.2,405.6 L229.3,404.3 L227.8,402.6 L226.3,400.9 L225.0,399.0 L223.6,397.4 L222.5,395.5 L220.8,394.2 L219.0,393.0 L218.3,390.5 L218.0,388.0 L215.0,389.0 L213.9,391.1 L212.5,393.0 L211.4,395.1 L210.0,397.0 L208.5,399.0 L207.1,401.1 L205.0,402.5 L203.0,404.0 L202.5,406.1 L204.4,407.9 L204.0,410.0 L203.7,412.2 L203.1,414.3 L202.3,416.4 L203.2,418.7 L202.8,420.9 L202.0,423.0 L200.0,421.3 L198.5,419.1 L197.0,417.0 L195.7,414.8 L195.3,412.1 L193.8,409.9 L192.0,408.0 L192.4,405.6 L190.4,403.5 L190.1,401.1 L191.1,398.6 L191.1,396.2 L190.0,394.0 L189.7,391.6 L189.6,389.2 L188.2,386.9 L188.7,384.4 L188.6,382.0 L189.3,379.6 L189.0,377.3 L189.0,375.0 L189.1,372.6 L187.6,370.4 L188.0,368.0 L186.8,365.6 L186.4,363.1 L186.5,360.5 L186.0,358.0 L185.8,355.7 L185.8,353.3 L184.9,351.2 L184.0,349.0 L184.0,347.0 L184.0,344.9 L183.2,343.0 L183.0,341.0 L183.5,338.6 L182.9,336.1 L184.7,333.9 L184.1,331.3 L185.0,329.0 L185.3,326.3 L184.3,323.9 L183.1,321.6 L183.0,319.0 L181.7,316.7 L181.3,314.1 L181.5,311.4 L180.6,309.0 L180.6,306.5 L179.1,304.3 L178.6,301.9 L179.0,299.4 L178.6,297.0 L179.1,295.0 L179.1,293.0 L179.1,290.9 L180.0,289.0 L178.6,287.4 L177.0,286.0 L174.8,285.4 L173.4,283.6 L172.0,282.0 L173.0,279.0 L171.9,277.4 L171.7,275.2 L170.0,274.0 L168.5,271.8 L167.2,269.5 L165.0,268.0 L164.6,266.0 L163.8,264.1 L164.0,262.0 L165.2,260.2 L167.0,259.0 L169.2,260.8 L172.0,261.0 L173.9,260.3 L175.1,258.7 L177.0,258.0 L175.2,257.0 L175.0,255.0 L173.4,253.4 L172.0,251.6 L170.1,250.3 L168.3,248.9 L167.0,247.0 L165.6,245.2 L164.4,243.2 L161.8,242.6 L160.0,241.2 L159.0,239.0 L157.7,237.1 L156.9,235.1 L156.3,232.8 L154.5,231.3 L154.0,229.0 L154.2,226.9 L153.8,224.9 L153.0,223.0 L151.6,221.2 L149.8,219.7 L149.5,217.1 L147.1,216.0 L146.0,214.0 L145.8,211.8 L144.0,210.2 L143.3,208.2 L143.0,206.0 L141.2,204.6 L138.8,204.3 L137.4,202.2 L135.0,202.0 L133.0,201.0 L130.5,201.0 L128.1,200.3 L125.8,199.4 L123.5,198.3 L121.0,198.0 L119.7,196.3 L117.2,196.6 L115.6,195.2 L114.0,194.0 L111.7,192.9 L110.5,190.3 L107.6,190.0 L106.0,188.0 L104.2,186.4 L103.3,184.4 L102.8,182.1 L102.0,180.0 L102.8,178.0Z" fill="none" stroke="#585c58" stroke-width="1.85" stroke-linejoin="round"/>
</g>
<rect x="48.4" y="70.3" width="662.9" height="515.8" fill="none" stroke="#222" stroke-width="1"/>
<g stroke="#333" stroke-width="0.8">
<path d="M84.5,586.1 v3.6"/>
<path d="M133.7,586.1 v3.6"/>
<path d="M182.8,586.1 v3.6"/>
<path d="M232.0,586.1 v3.6"/>
<path d="M281.2,586.1 v3.6"/>
<path d="M330.4,586.1 v3.6"/>
<path d="M379.5,586.1 v3.6"/>
<path d="M428.7,586.1 v3.6"/>
<path d="M477.9,586.1 v3.6"/>
<path d="M527.0,586.1 v3.6"/>
<path d="M576.2,586.1 v3.6"/>
<path d="M625.4,586.1 v3.6"/>
<path d="M674.5,586.1 v3.6"/>
<path d="M48.4,586.1 h-3.6"/>
<path d="M48.4,534.5 h-3.6"/>
<path d="M48.4,482.9 h-3.6"/>
<path d="M48.4,431.4 h-3.6"/>
<path d="M48.4,379.8 h-3.6"/>
<path d="M48.4,328.2 h-3.6"/>
<path d="M48.4,276.6 h-3.6"/>
<path d="M48.4,225.0 h-3.6"/>
<path d="M48.4,173.5 h-3.6"/>
<path d="M48.4,121.9 h-3.6"/>
<path d="M48.4,70.3 h-3.6"/>
</g>
<g font-size="10.9" fill="#333">
<text class="tk" x="84.5" y="603.2" text-anchor="middle">97°E</text>
<text class="tk" x="133.7" y="603.2" text-anchor="middle">98°E</text>
<text class="tk" x="182.8" y="603.2" text-anchor="middle">99°E</text>
<text class="tk" x="232.0" y="603.2" text-anchor="middle">100°E</text>
<text class="tk" x="281.2" y="603.2" text-anchor="middle">101°E</text>
<text class="tk" x="330.4" y="603.2" text-anchor="middle">102°E</text>
<text class="tk" x="379.5" y="603.2" text-anchor="middle">103°E</text>
<text class="tk" x="428.7" y="603.2" text-anchor="middle">104°E</text>
<text class="tk" x="477.9" y="603.2" text-anchor="middle">105°E</text>
<text class="tk" x="527.0" y="603.2" text-anchor="middle">106°E</text>
<text class="tk" x="576.2" y="603.2" text-anchor="middle">107°E</text>
<text class="tk" x="625.4" y="603.2" text-anchor="middle">108°E</text>
<text class="tk" x="674.5" y="603.2" text-anchor="middle">109°E</text>
<text class="tk" x="40.5" y="590.2" text-anchor="end">25°N</text>
<text class="tk" x="40.5" y="538.6" text-anchor="end">26°N</text>
<text class="tk" x="40.5" y="487.0" text-anchor="end">27°N</text>
<text class="tk" x="40.5" y="435.5" text-anchor="end">28°N</text>
<text class="tk" x="40.5" y="383.9" text-anchor="end">29°N</text>
<text class="tk" x="40.5" y="332.3" text-anchor="end">30°N</text>
<text class="tk" x="40.5" y="280.7" text-anchor="end">31°N</text>
<text class="tk" x="40.5" y="229.1" text-anchor="end">32°N</text>
<text class="tk" x="40.5" y="177.6" text-anchor="end">33°N</text>
<text class="tk" x="40.5" y="126.0" text-anchor="end">34°N</text>
<text class="tk" x="40.5" y="74.4" text-anchor="end">35°N</text>
</g>
<text x="60.3" y="569.6" font-size="15.4" fill="#333">四川省气象台制作</text>
<rect x="615.5" y="402" width="88.2" height="164" fill="#fff" fill-opacity="0.82" stroke="#222" stroke-width="1"/>
<text x="621.3" y="420.3" font-size="13.6" fill="#222">图例</text>
<rect x="619.6" y="429.6" width="32.2" height="15.4" fill="#ffffff"/>
<text x="653.6" y="441.5" font-size="11.1" fill="#222">无降水</text>
<rect x="619.6" y="448.1" width="32.2" height="15.4" fill="#a6f28f"/>
<text x="653.6" y="460.0" font-size="11.1" fill="#222">小雨</text>
<rect x="619.6" y="466.6" width="32.2" height="15.4" fill="#3dba3d"/>
<text x="653.6" y="478.5" font-size="11.1" fill="#222">中雨</text>
<rect x="619.6" y="485.1" width="32.2" height="15.4" fill="#61b8ff"/>
<text x="653.6" y="497.0" font-size="11.1" fill="#222">大雨</text>
<rect x="619.6" y="503.6" width="32.2" height="15.4" fill="#0000e1"/>
<text x="653.6" y="515.5" font-size="11.1" fill="#222">暴雨</text>
<rect x="619.6" y="522.1" width="32.2" height="15.4" fill="#fa00fa"/>
<text x="653.6" y="534.0" font-size="11.1" fill="#222">大暴雨</text>
<rect x="619.6" y="540.6" width="32.2" height="15.4" fill="#800040"/>
<text x="653.6" y="552.5" font-size="11.1" fill="#222">特大暴雨</text>
</svg>
</body></html>
